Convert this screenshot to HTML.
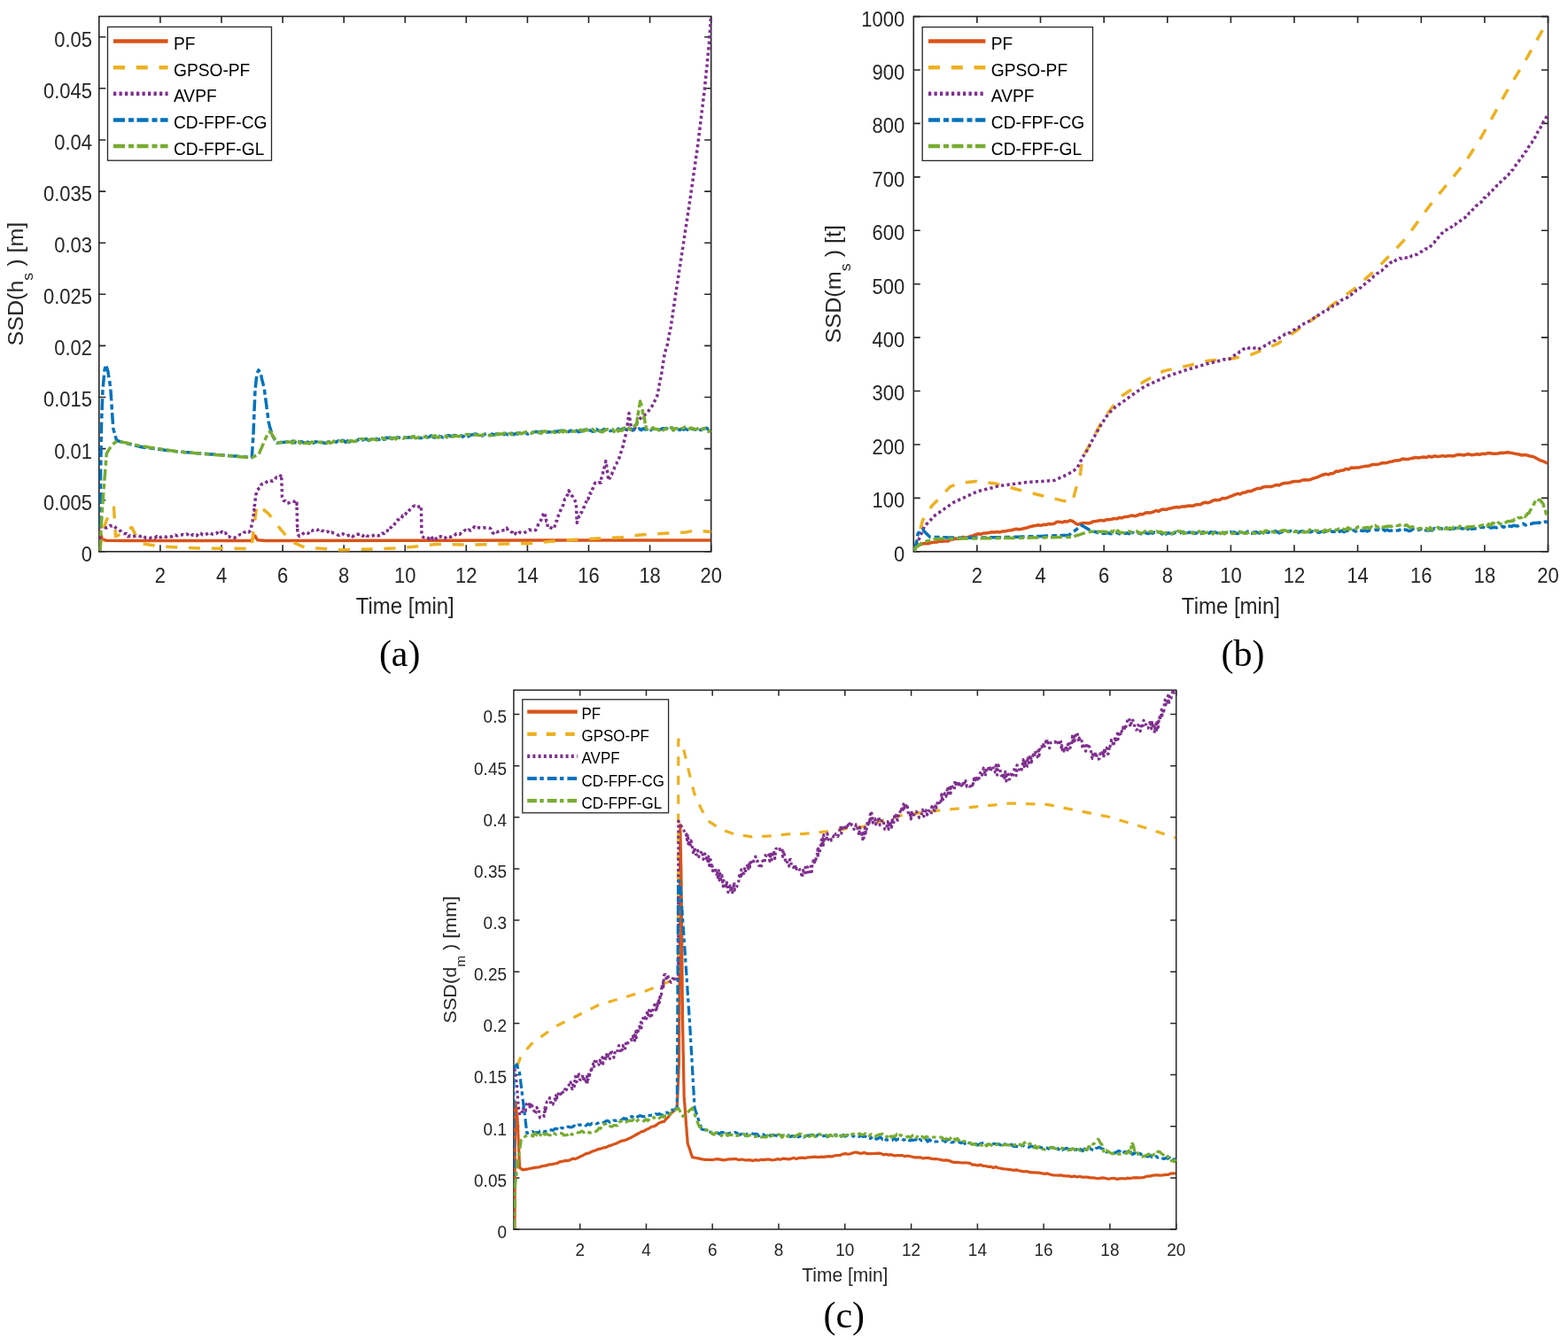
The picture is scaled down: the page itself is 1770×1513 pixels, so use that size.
<!DOCTYPE html>
<html><head><meta charset="utf-8"><title>SSD comparison plots</title>
<style>html,body{margin:0;padding:0;background:#fff;}svg{display:block;}</style>
</head><body>
<svg width="1770" height="1513" viewBox="0 0 1770 1513">
<rect width="1770" height="1513" fill="#fff"/>
<g stroke="#262626" stroke-width="1.6" fill="none">
<rect x="111.8" y="18.5" width="690.9" height="604.3"/>
<path d="M111.8 622.8h7.5M802.7 622.8h-7.5M111.8 564.7h7.5M802.7 564.7h-7.5M111.8 506.6h7.5M802.7 506.6h-7.5M111.8 448.5h7.5M802.7 448.5h-7.5M111.8 390.4h7.5M802.7 390.4h-7.5M111.8 332.3h7.5M802.7 332.3h-7.5M111.8 274.2h7.5M802.7 274.2h-7.5M111.8 216.1h7.5M802.7 216.1h-7.5M111.8 158h7.5M802.7 158h-7.5M111.8 99.8h7.5M802.7 99.8h-7.5M111.8 41.7h7.5M802.7 41.7h-7.5M180.9 622.8v-7.5M180.9 18.5v7.5M250 622.8v-7.5M250 18.5v7.5M319.1 622.8v-7.5M319.1 18.5v7.5M388.2 622.8v-7.5M388.2 18.5v7.5M457.3 622.8v-7.5M457.3 18.5v7.5M526.3 622.8v-7.5M526.3 18.5v7.5M595.4 622.8v-7.5M595.4 18.5v7.5M664.5 622.8v-7.5M664.5 18.5v7.5M733.6 622.8v-7.5M733.6 18.5v7.5M802.7 622.8v-7.5M802.7 18.5v7.5"/>
</g>
<g font-family="'Liberation Sans', Arial, Helvetica, sans-serif" font-size="22" fill="#262626">
<text transform="translate(104 633.7) scale(1 1.06)" text-anchor="end">0</text>
<text transform="translate(104 575.6) scale(1 1.06)" text-anchor="end">0.005</text>
<text transform="translate(104 517.5) scale(1 1.06)" text-anchor="end">0.01</text>
<text transform="translate(104 459.4) scale(1 1.06)" text-anchor="end">0.015</text>
<text transform="translate(104 401.3) scale(1 1.06)" text-anchor="end">0.02</text>
<text transform="translate(104 343.1) scale(1 1.06)" text-anchor="end">0.025</text>
<text transform="translate(104 285) scale(1 1.06)" text-anchor="end">0.03</text>
<text transform="translate(104 226.9) scale(1 1.06)" text-anchor="end">0.035</text>
<text transform="translate(104 168.8) scale(1 1.06)" text-anchor="end">0.04</text>
<text transform="translate(104 110.7) scale(1 1.06)" text-anchor="end">0.045</text>
<text transform="translate(104 52.6) scale(1 1.06)" text-anchor="end">0.05</text>
<text transform="translate(180.9 658) scale(1 1.06)" text-anchor="middle">2</text>
<text transform="translate(250 658) scale(1 1.06)" text-anchor="middle">4</text>
<text transform="translate(319.1 658) scale(1 1.06)" text-anchor="middle">6</text>
<text transform="translate(388.2 658) scale(1 1.06)" text-anchor="middle">8</text>
<text transform="translate(457.3 658) scale(1 1.06)" text-anchor="middle">10</text>
<text transform="translate(526.3 658) scale(1 1.06)" text-anchor="middle">12</text>
<text transform="translate(595.4 658) scale(1 1.06)" text-anchor="middle">14</text>
<text transform="translate(664.5 658) scale(1 1.06)" text-anchor="middle">16</text>
<text transform="translate(733.6 658) scale(1 1.06)" text-anchor="middle">18</text>
<text transform="translate(802.7 658) scale(1 1.06)" text-anchor="middle">20</text>
</g>
<text font-family="'Liberation Sans', Arial, Helvetica, sans-serif" font-size="24" fill="#262626" transform="translate(457.2 693) scale(1 1.06)" text-anchor="middle">Time [min]</text>
<text font-family="'Liberation Sans', Arial, Helvetica, sans-serif" font-size="24" fill="#262626" text-anchor="middle" transform="translate(26.4 320.6) rotate(-90) scale(1.045 1)">SSD(h<tspan dy="10.5" font-size="17">s</tspan><tspan dy="-10.5"> ) [m]</tspan></text>
<g stroke="#262626" stroke-width="1.6" fill="none">
<rect x="1031.3" y="18.6" width="716.2" height="604.2"/>
<path d="M1031.3 622.8h7.5M1747.5 622.8h-7.5M1031.3 562.4h7.5M1747.5 562.4h-7.5M1031.3 502h7.5M1747.5 502h-7.5M1031.3 441.5h7.5M1747.5 441.5h-7.5M1031.3 381.1h7.5M1747.5 381.1h-7.5M1031.3 320.7h7.5M1747.5 320.7h-7.5M1031.3 260.3h7.5M1747.5 260.3h-7.5M1031.3 199.9h7.5M1747.5 199.9h-7.5M1031.3 139.4h7.5M1747.5 139.4h-7.5M1031.3 79h7.5M1747.5 79h-7.5M1031.3 18.6h7.5M1747.5 18.6h-7.5M1102.9 622.8v-7.5M1102.9 18.6v7.5M1174.5 622.8v-7.5M1174.5 18.6v7.5M1246.2 622.8v-7.5M1246.2 18.6v7.5M1317.8 622.8v-7.5M1317.8 18.6v7.5M1389.4 622.8v-7.5M1389.4 18.6v7.5M1461 622.8v-7.5M1461 18.6v7.5M1532.6 622.8v-7.5M1532.6 18.6v7.5M1604.3 622.8v-7.5M1604.3 18.6v7.5M1675.9 622.8v-7.5M1675.9 18.6v7.5M1747.5 622.8v-7.5M1747.5 18.6v7.5"/>
</g>
<g font-family="'Liberation Sans', Arial, Helvetica, sans-serif" font-size="22" fill="#262626">
<text transform="translate(1021.2 633.7) scale(1 1.06)" text-anchor="end">0</text>
<text transform="translate(1021.2 573.3) scale(1 1.06)" text-anchor="end">100</text>
<text transform="translate(1021.2 512.8) scale(1 1.06)" text-anchor="end">200</text>
<text transform="translate(1021.2 452.4) scale(1 1.06)" text-anchor="end">300</text>
<text transform="translate(1021.2 392) scale(1 1.06)" text-anchor="end">400</text>
<text transform="translate(1021.2 331.6) scale(1 1.06)" text-anchor="end">500</text>
<text transform="translate(1021.2 271.2) scale(1 1.06)" text-anchor="end">600</text>
<text transform="translate(1021.2 210.7) scale(1 1.06)" text-anchor="end">700</text>
<text transform="translate(1021.2 150.3) scale(1 1.06)" text-anchor="end">800</text>
<text transform="translate(1021.2 89.9) scale(1 1.06)" text-anchor="end">900</text>
<text transform="translate(1021.2 29.5) scale(1 1.06)" text-anchor="end">1000</text>
<text transform="translate(1102.9 658) scale(1 1.06)" text-anchor="middle">2</text>
<text transform="translate(1174.5 658) scale(1 1.06)" text-anchor="middle">4</text>
<text transform="translate(1246.2 658) scale(1 1.06)" text-anchor="middle">6</text>
<text transform="translate(1317.8 658) scale(1 1.06)" text-anchor="middle">8</text>
<text transform="translate(1389.4 658) scale(1 1.06)" text-anchor="middle">10</text>
<text transform="translate(1461 658) scale(1 1.06)" text-anchor="middle">12</text>
<text transform="translate(1532.6 658) scale(1 1.06)" text-anchor="middle">14</text>
<text transform="translate(1604.3 658) scale(1 1.06)" text-anchor="middle">16</text>
<text transform="translate(1675.9 658) scale(1 1.06)" text-anchor="middle">18</text>
<text transform="translate(1747.5 658) scale(1 1.06)" text-anchor="middle">20</text>
</g>
<text font-family="'Liberation Sans', Arial, Helvetica, sans-serif" font-size="24" fill="#262626" transform="translate(1389.4 693) scale(1 1.06)" text-anchor="middle">Time [min]</text>
<text font-family="'Liberation Sans', Arial, Helvetica, sans-serif" font-size="24" fill="#262626" text-anchor="middle" transform="translate(949 320.7) rotate(-90) scale(1.05 1)">SSD(m<tspan dy="10.5" font-size="17">s</tspan><tspan dy="-10.5"> ) [t]</tspan></text>
<g stroke="#262626" stroke-width="1.5" fill="none">
<rect x="579.9" y="779.2" width="747.8" height="608.8"/>
<path d="M579.9 1388h6.5M1327.7 1388h-6.5M579.9 1329.9h6.5M1327.7 1329.9h-6.5M579.9 1271.7h6.5M1327.7 1271.7h-6.5M579.9 1213.6h6.5M1327.7 1213.6h-6.5M579.9 1155.4h6.5M1327.7 1155.4h-6.5M579.9 1097.3h6.5M1327.7 1097.3h-6.5M579.9 1039.1h6.5M1327.7 1039.1h-6.5M579.9 981h6.5M1327.7 981h-6.5M579.9 922.8h6.5M1327.7 922.8h-6.5M579.9 864.7h6.5M1327.7 864.7h-6.5M579.9 806.5h6.5M1327.7 806.5h-6.5M654.7 1388v-6.5M654.7 779.2v6.5M729.5 1388v-6.5M729.5 779.2v6.5M804.2 1388v-6.5M804.2 779.2v6.5M879 1388v-6.5M879 779.2v6.5M953.8 1388v-6.5M953.8 779.2v6.5M1028.6 1388v-6.5M1028.6 779.2v6.5M1103.4 1388v-6.5M1103.4 779.2v6.5M1178.1 1388v-6.5M1178.1 779.2v6.5M1252.9 1388v-6.5M1252.9 779.2v6.5M1327.7 1388v-6.5M1327.7 779.2v6.5"/>
</g>
<g font-family="'Liberation Sans', Arial, Helvetica, sans-serif" font-size="19" fill="#262626">
<text transform="translate(572 1397.8) scale(1 1.06)" text-anchor="end">0</text>
<text transform="translate(572 1339.7) scale(1 1.06)" text-anchor="end">0.05</text>
<text transform="translate(572 1281.5) scale(1 1.06)" text-anchor="end">0.1</text>
<text transform="translate(572 1223.4) scale(1 1.06)" text-anchor="end">0.15</text>
<text transform="translate(572 1165.2) scale(1 1.06)" text-anchor="end">0.2</text>
<text transform="translate(572 1107.1) scale(1 1.06)" text-anchor="end">0.25</text>
<text transform="translate(572 1048.9) scale(1 1.06)" text-anchor="end">0.3</text>
<text transform="translate(572 990.8) scale(1 1.06)" text-anchor="end">0.35</text>
<text transform="translate(572 932.6) scale(1 1.06)" text-anchor="end">0.4</text>
<text transform="translate(572 874.5) scale(1 1.06)" text-anchor="end">0.45</text>
<text transform="translate(572 816.3) scale(1 1.06)" text-anchor="end">0.5</text>
<text transform="translate(654.7 1418.2) scale(1 1.06)" text-anchor="middle">2</text>
<text transform="translate(729.5 1418.2) scale(1 1.06)" text-anchor="middle">4</text>
<text transform="translate(804.2 1418.2) scale(1 1.06)" text-anchor="middle">6</text>
<text transform="translate(879 1418.2) scale(1 1.06)" text-anchor="middle">8</text>
<text transform="translate(953.8 1418.2) scale(1 1.06)" text-anchor="middle">10</text>
<text transform="translate(1028.6 1418.2) scale(1 1.06)" text-anchor="middle">12</text>
<text transform="translate(1103.4 1418.2) scale(1 1.06)" text-anchor="middle">14</text>
<text transform="translate(1178.1 1418.2) scale(1 1.06)" text-anchor="middle">16</text>
<text transform="translate(1252.9 1418.2) scale(1 1.06)" text-anchor="middle">18</text>
<text transform="translate(1327.7 1418.2) scale(1 1.06)" text-anchor="middle">20</text>
</g>
<text font-family="'Liberation Sans', Arial, Helvetica, sans-serif" font-size="21" fill="#262626" transform="translate(953.8 1446.5) scale(1 1.06)" text-anchor="middle">Time [min]</text>
<text font-family="'Liberation Sans', Arial, Helvetica, sans-serif" font-size="21" fill="#262626" text-anchor="middle" transform="translate(515 1083.6) rotate(-90) scale(1.03 1)">SSD(d<tspan dy="9.5" font-size="15">m</tspan><tspan dy="-9.5"> ) [mm]</tspan></text>
<clipPath id="clipa"><rect x="111.8" y="16.5" width="691.9" height="607.3"/></clipPath>
<g clip-path="url(#clipa)">
<polyline fill="none" stroke="#D95319" stroke-width="3.5" stroke-linejoin="round" points="112.5,622 112.5,599.6 115.3,608.5 120,610.3 140.7,610.5 284,610.5 286,606.5 288,605 290.5,609.8 300,610.5 460,610.3 600,610 802,610"/>
<polyline fill="none" stroke="#EDB120" stroke-width="3.5" stroke-dasharray="13 12.8" stroke-linejoin="round" points="112.5,622 116,600 120,588 125,578 128.5,573 130.5,605.7 136,603 142,598 148.8,595.6 154,606 161,613.9 181.3,617 222,619 284,619.5 286,599.6 290,570.2 296,574 303.4,580.3 313.5,593.5 323.7,605.7 329.8,611.9 344,618 384.7,621 420,620 445.7,619 465,617.6 492.3,614.5 534,615.1 575.9,613.9 603,613.4 619.8,611.4 649,609.3 670,608.2 701.3,606.8 722.2,604 753.5,602 774.5,600.9 785,598.8 802.5,600.5"/>
<polyline fill="none" stroke="#7E2F8E" stroke-width="3.5" stroke-dasharray="3.3 3.2" stroke-linejoin="round" points="112.5,622 112.5,619.1 112.5,618.3 112.5,616.1 112.5,614.5 112.5,610.2 112.5,608.1 112.5,605.7 112.5,603.8 112.5,603.2 112.5,599.2 112.5,598.3 112.5,595.1 115,595 117.5,595.1 120,596.1 122.1,595.3 124.2,593.3 126.3,594 128.4,593.5 130.5,595.8 132,596.7 133.5,597.8 135,599 136.9,600 138.8,601.9 140.7,602.6 142.7,602.4 144.7,605.8 146.9,604.8 149.1,605.9 151.3,605.5 153.4,605.2 155.6,605.2 157.8,605.6 160,605.4 162.1,604.9 164.3,607.2 166.4,607.2 168.5,607.9 170.7,607 172.8,606.7 174.9,607.4 177,605.5 179.2,607.3 181.3,606.6 183.4,605.6 185.5,605.4 187.5,606.3 189.6,605.2 191.7,605.7 193.8,605.9 195.8,605.1 197.9,604 200,605 202.2,604 204.4,603.9 206.6,603.6 208.8,604.1 211,603 213.2,604.7 215.4,605.5 217.6,603.6 219.8,604.5 222,605.1 224.2,602 226.5,602.1 228.8,604 231,603.9 233.2,603.1 235.5,601.3 237.8,601.9 240,603.2 242.1,603 244.2,602.5 246.3,600.3 248.4,602.1 250.5,600.3 252.5,602.6 254.6,601.9 256.6,605.8 258.6,605.8 260.7,607.3 262.7,606.9 264.8,607.2 266.8,606.1 268.9,605.2 270.9,603.5 272.9,603.7 275,601.5 277,600.7 279,599.7 281,600.8 283,598.4 283.4,596.4 283.9,593.6 284.3,593.1 284.7,590.5 285.1,588.2 285.6,584.2 286,583.2 286.3,580.7 286.5,577.7 286.8,575.2 287,576.2 287.3,571.2 287.6,569.6 287.8,567.3 288.1,566.1 288.3,562.2 288.6,561.3 288.8,558.8 289.1,558.1 290.3,553.4 291.5,552.4 292.8,550.9 294,550.3 295.2,546.9 297.2,545.9 299.3,545.8 301.3,543.8 303.4,542.2 305.6,542.8 307.8,543.2 310,541.8 311.9,539.1 313.8,539.4 315.7,538.8 317.6,535.8 317.7,539.1 317.8,540.5 317.9,542.4 317.9,544.7 318,546.7 318.1,549.3 318.2,550.5 318.3,553.9 318.4,555.1 318.4,559.4 318.5,561.1 318.6,561.4 320.3,565.6 322,565.4 323.7,568 325.9,567.9 328.2,566.8 330.4,566.2 332.7,566.3 334.9,564.9 335,569.5 335,569.3 335.1,573.8 335.1,574 335.2,576.5 335.3,579 335.3,580.1 335.4,582.6 335.4,585.6 335.5,588 335.5,591.6 335.6,594.2 335.7,593.4 335.7,597.2 335.8,598.1 335.8,602.5 335.9,603.1 337.9,605.5 340,604.8 342,602.6 344,601.2 346,601.1 348,602.1 350,598.9 352.1,599.3 354.1,598.4 356.2,597.7 358.3,598.6 360.6,597.2 363,599.3 365.3,599.6 367.7,600.9 370,600.1 372.1,601.9 374.2,600.9 376.3,601.8 378.4,602.5 380.5,603.7 382.6,604.4 384.7,602.5 387,602.7 389.2,604 391.5,605 393.7,604.3 396,603.6 398.2,605.8 400.5,603.8 402.7,603.3 405,603.3 407.2,603.1 409.5,605.2 411.7,603.2 413.9,605 416.1,605.4 418.4,605.8 420.6,605.1 422.8,603.7 425,604.3 427.3,604.9 429.5,604.4 431.5,602 433.6,602.5 435.6,599.4 437.6,599 439.2,599.7 440.7,596.5 442.2,594.3 443.8,594.4 445.4,591.8 446.9,588.9 448.4,587.4 450,586.6 451.5,585.3 453.1,585.7 454.6,582 456.1,582.4 457.6,580.9 459.1,578 460.7,578.3 462.2,576 464.2,573.8 466.3,571.8 468.3,571.1 470.7,572.8 473,572 475.4,571.2 475.4,574 475.5,576.6 475.5,577.9 475.6,581.4 475.6,581.9 475.6,586.6 475.7,586.8 475.7,588.8 475.8,592.6 475.8,593.9 475.8,598 475.9,599 475.9,601.3 476,604.5 476,604.8 478.1,606.8 480.2,606.8 482.3,606.4 484.4,608.4 486.5,605.7 488.6,608.7 490.7,606.7 493,608.7 495.2,606.2 497.5,605.7 499.7,606.9 502,608 504.2,605.6 506.5,606.1 508.7,606.3 511,604.9 513,605 515,602.5 517,603.1 519,603.3 521,601.1 523,599.9 525,598.6 527.1,599.9 529.1,598.2 531.2,599 533.3,597.7 535.4,594.9 537.4,596.7 539.5,596 541.5,595.8 543.6,596 545.6,595.7 547.6,596 549.7,596 551.7,595.9 553,596.3 554.2,597.5 555.5,600.9 556.8,602 559,599.6 561.1,600.7 563.3,599.9 565.5,598.8 567.7,598.9 569.8,598.5 572,596.2 573.6,598.8 575.3,599 576.9,600.5 578.6,601.2 580.2,604.1 582.3,602.1 584.4,603.4 586.5,601 588.7,601.7 590.8,602.1 592.9,601 595,599.6 597.4,598 599.8,598.7 602.2,597.9 604.6,598.6 605.6,596.7 606.6,595.5 607.6,591.9 608.6,590 609.7,588.7 610.7,587.4 611.7,583.4 612.7,582 613.7,580 614.7,578.7 615.2,580.7 615.7,584.9 616.2,584.5 616.8,588.8 617.3,588.8 617.8,590.6 618.3,595.1 618.8,594.3 620.8,595.4 622.9,596.4 624.9,597.2 625.6,596.1 626.4,593.4 627.1,591.1 627.8,588.5 628.6,588.5 629.3,584.3 630.1,582.7 630.8,581.6 631.5,580.5 632.3,577.7 633,575.7 633.9,573.6 634.8,571.9 635.8,570.1 636.7,565.9 637.6,563.5 638.5,563.3 639.4,561 640.4,559 641.3,557.8 642.2,553.9 643.4,557.3 644.5,558.2 645.7,559.9 646.8,561.1 648,562.9 649.1,565.6 650.3,567.3 650.4,570.6 650.5,570.9 650.6,574.5 650.7,574.8 650.8,578.8 650.9,579.5 651,583.9 651.1,586.5 651.2,586.5 651.3,590.5 652.1,586.8 652.9,585.2 653.8,582.7 654.6,582 655.4,579 656.4,578.9 657.3,576.5 658.3,574 659.2,572.9 660.2,569.3 661.2,567.6 662.1,565.7 663.1,562.5 664,563.3 665,558.7 666,556.8 666.9,557.2 667.9,555.4 668.8,552.3 669.8,550.3 670.7,547.5 671.7,545.2 673.7,546.5 675.8,545.3 677.8,544.7 678.3,545 678.8,540 679.3,539 679.8,538.1 680.3,536 680.8,531.8 681.4,531.7 681.9,529 682.4,527.1 682.9,526 683.4,523.4 683.9,520.6 684.2,523.4 684.5,524.8 684.8,527.2 685.1,530.3 685.5,531.9 685.8,533.3 686.1,534.4 686.4,539.1 686.7,539.9 687,542.5 687.9,540.1 688.7,539 689.6,536.5 690.5,535.9 691.3,533.2 692.2,531.2 693.1,529.9 693.9,526.9 694.8,525.2 695.8,523.8 696.7,521.6 697.7,519.5 698.6,517.9 699.6,514.7 700.3,512.6 701,510.6 701.7,508.7 702.4,506.8 703,504.5 703.6,502.2 704.1,499.9 704.7,497.6 705.3,495.3 705.8,493.4 706.2,491.5 706.7,489.5 707.2,487.6 707.5,485.5 707.8,483.4 708,481.3 708.3,479.2 708.6,477.1 708.9,474.9 709.2,472.8 709.4,470.7 709.7,468.6 710,466.5 710.3,468.8 710.7,471 711,473.2 711.3,475.5 711.7,477.8 712,480 712.8,481.9 713.5,483.8 714.2,485.7 715,487.6 715.8,485.7 716.6,483.7 717.4,481.8 718.1,479.8 718.9,477.9 719.7,475.9 720.5,474 722.1,472.8 723.8,471.5 725.4,470.2 727,469 728.7,467.8 730.3,466.5 731.7,464.6 733.1,462.6 734.6,460.7 736,458.8 737,456.9 737.9,455 738.9,453.1 739.9,451.1 740.8,449.2 741.8,447.3 742.2,445.1 742.6,442.9 743.1,440.6 743.5,438.4 743.9,436.2 744.3,434 744.8,431.8 745.2,429.6 745.6,427.4 746,425.1 746.5,422.9 746.9,420.7 747.2,418.5 747.6,416.4 747.9,414.2 748.3,412 748.6,409.9 748.9,407.7 749.3,405.5 749.6,403.3 750,401.2 750.3,399 751,396.8 751.6,394.6 752.3,392.4 753,390.2 753.5,387.9 753.9,385.7 754.4,383.4 754.8,381.1 755.3,378.9 755.7,376.6 756.2,374.3 756.6,372.1 757.1,369.8 757.4,367.6 757.8,365.4 758.1,363.2 758.4,361 758.8,358.8 759.1,356.6 759.4,354.4 759.7,352.2 760.1,350 760.4,347.8 760.7,345.6 761.1,343.4 761.4,341.2 761.7,339 762,336.8 762.4,334.6 762.7,332.4 763,330.2 763.4,328 763.7,325.8 764,323.6 764.4,321.4 764.7,319.2 765,317 765.4,314.8 765.7,312.6 766,310.4 766.3,308.2 766.7,306 767,303.8 767.3,301.6 767.7,299.5 768,297.3 768.3,295.2 768.7,293 769,290.8 769.3,288.7 769.7,286.5 770,284.3 770.3,282.2 770.7,280 771,277.9 771.3,275.7 771.7,273.5 772,271.4 772.3,269.2 772.6,267.1 773,264.9 773.3,262.7 773.6,260.6 774,258.4 774.3,256.3 774.6,254.1 775,251.9 775.3,249.8 775.6,247.6 776,245.4 776.3,243.3 776.6,241.1 777,239 777.3,236.8 777.6,234.6 777.9,232.4 778.2,230.2 778.5,228 778.9,225.9 779.2,223.7 779.5,221.5 779.8,219.3 780.1,217.1 780.4,214.9 780.7,212.7 781,210.5 781.4,208.4 781.7,206.2 782,204 782.3,201.8 782.6,199.6 782.9,197.4 783.2,195.2 783.5,193 783.9,190.9 784.2,188.7 784.5,186.5 784.8,184.3 785.1,182.1 785.4,179.9 785.7,177.7 786,175.5 786.4,173.4 786.7,171.2 787,169 787.3,166.8 787.6,164.6 787.9,162.4 788.1,160.2 788.4,157.9 788.7,155.7 788.9,153.5 789.2,151.3 789.5,149.1 789.8,146.8 790,144.6 790.3,142.4 790.6,140.2 790.8,138 791.1,135.7 791.4,133.5 791.6,131.3 791.9,129.1 792.2,126.8 792.4,124.6 792.7,122.4 793,120.2 793.2,118 793.5,115.7 793.8,113.5 794.1,111.3 794.3,109.1 794.6,106.9 794.9,104.6 795.1,102.4 795.4,100.2 795.6,98.1 795.8,95.9 796,93.8 796.2,91.6 796.5,89.5 796.7,87.3 796.9,85.2 797.1,83 797.3,80.9 797.5,78.7 797.7,76.6 798,74.5 798.2,72.3 798.4,70.2 798.6,68 798.8,65.9 799,63.7 799.2,61.6 799.4,59.4 799.6,57.3 799.9,55.1 800.1,53 800.3,50.8 800.5,48.7 800.6,46.6 800.8,44.5 800.9,42.3 801.1,40.2 801.2,38.1 801.4,36 801.5,33.9 801.6,31.7 801.8,29.6 801.9,27.5 802.1,25.4 802.2,23.2 802.4,21.1 802.5,19"/>
<polyline fill="none" stroke="#0072BD" stroke-width="3.5" stroke-dasharray="13 4 6 3.5" stroke-linejoin="round" points="112.5,622 112.5,619.8 112.5,617.7 112.6,615.5 112.6,613.3 112.6,611.2 112.7,609 112.7,606.8 112.7,604.7 112.7,602.5 112.8,600.3 112.8,598.2 112.8,596 112.8,593.8 112.9,591.5 112.9,589.3 112.9,587 112.9,584.8 113,582.6 113,580.3 113,578.1 113.1,575.8 113.1,573.6 113.1,571.4 113.1,569.1 113.2,566.9 113.2,564.6 113.2,562.4 113.2,560.2 113.3,557.9 113.3,555.7 113.3,553.4 113.4,551.2 113.4,549 113.4,546.7 113.4,544.5 113.5,542.2 113.5,540 113.5,537.8 113.6,535.6 113.6,533.3 113.6,531.1 113.7,528.9 113.7,526.7 113.8,524.4 113.8,522.2 113.8,520 113.9,517.8 113.9,515.6 113.9,513.3 114,511.1 114,508.9 114.1,506.7 114.1,504.4 114.1,502.2 114.2,500 114.2,497.8 114.2,495.6 114.3,493.3 114.3,491.1 114.4,488.9 114.4,486.7 114.4,484.4 114.5,482.2 114.5,480 114.6,477.8 114.7,475.6 114.8,473.3 114.8,471.1 114.9,468.9 115,466.7 115.1,464.4 115.2,462.2 115.2,460 115.3,457.8 115.4,455.6 115.5,453.3 115.6,451.1 115.7,448.9 115.8,446.7 115.8,444.4 115.9,442.2 116,440 116.2,437.8 116.4,435.6 116.6,433.4 116.8,431.2 117,429 117.2,426.8 117.4,424.6 117.6,422.4 117.8,420.2 118,418 118.5,416 119.1,414 119.6,412 120.2,414 120.8,416 121.4,418 122,420 122.3,422.2 122.7,424.5 123,426.8 123.4,429 123.8,431.2 124.1,433.5 124.5,435.8 124.8,438 124.9,440.2 125.1,442.5 125.2,444.8 125.4,447 125.5,449.2 125.7,451.5 125.8,453.8 125.9,456 126.1,458.2 126.2,460.5 126.4,462.8 126.5,465 126.7,467.3 126.8,469.6 127,472 127.2,474.3 127.3,476.6 127.5,479 127.6,481.3 127.8,483.6 128.4,485.9 129.1,488.2 129.7,490.5 130.3,492.7 131,495 131.6,497.3 133.9,498 136.1,498.6 138.4,499.3 140.7,500 142.7,500.5 144.8,501 146.8,501.5 148.8,502 150.8,502.5 152.9,503 154.9,503.5 156.9,504 159,504.5 161,505 163.1,505.3 165.3,505.5 167.4,505.8 169.6,506.1 171.7,506.3 173.9,506.6 176,506.8 178.1,507.1 180.3,507.4 182.4,507.6 184.6,507.9 186.7,508.2 188.8,508.4 191,508.7 193.1,508.9 195.3,509.2 197.4,509.5 199.6,509.7 201.7,510 203.8,510.2 206,510.3 208.1,510.5 210.3,510.7 212.4,510.8 214.6,511 216.7,511.2 218.8,511.3 221,511.5 223.1,511.7 225.3,511.9 227.4,512 229.5,512.2 231.7,512.4 233.8,512.5 236,512.7 238.1,512.9 240.3,513 242.4,513.2 244.6,513.4 246.8,513.5 249,513.7 251.2,513.9 253.4,514.1 255.6,514.2 257.8,514.4 260,514.6 262.2,514.8 264.5,514.9 266.7,515.1 268.9,515.3 271.1,515.5 273.3,515.6 275.5,515.8 277.7,516 279.9,516.2 282.1,516.3 284.3,516.5 284.4,514.3 284.6,512.1 284.7,509.9 284.9,507.7 285,505.5 285.1,503.2 285.3,501 285.4,498.8 285.6,496.6 285.7,494.4 285.9,492.2 286,490 286.1,487.8 286.2,485.7 286.3,483.5 286.3,481.3 286.4,479.1 286.5,477 286.6,474.8 286.7,472.6 286.8,470.4 286.9,468.3 287,466.1 287,463.9 287.1,461.7 287.2,459.6 287.3,457.4 287.4,455.2 287.5,453 287.6,450.9 287.7,448.7 287.7,446.5 287.8,444.3 287.9,442.2 288,440 288.2,437.8 288.5,435.5 288.8,433.2 289,431 289.2,428.8 289.5,426.5 289.8,424.2 290,422 290.9,419.9 291.8,417.9 292.9,419.4 294,421 294.5,423.2 295.1,425.5 295.6,427.8 296.1,430 296.7,432.2 297.2,434.5 297.8,436.8 298.3,439 298.6,441.1 298.9,443.3 299.1,445.4 299.4,447.6 299.7,449.7 300,451.9 300.3,454 300.6,456.2 300.9,458.3 301.1,460.4 301.4,462.6 301.7,464.7 302,466.9 302.3,469 302.5,471.2 302.8,473.3 303.1,475.5 303.4,477.6 304,479.6 304.5,481.7 305.1,483.7 305.7,485.8 306.3,487.8 306.8,489.9 307.4,491.9 308.7,493.9 309.9,495.9 311.2,498 312.5,500 314.7,499.8 317,499.6 319.2,499.4 321.5,499.2 323.7,499 325.8,499.1 328,499.1 330.1,498.1 332.3,499.7 334.4,499.7 336.6,500.5 338.7,498.8 340.8,498.8 343,500.1 345.1,499.9 347.3,499.1 349.4,500.1 351.5,499.4 353.7,500.5 355.8,498.8 358,499.1 360.1,500.9 362.3,499.6 364.4,499.4 366.5,500.6 368.7,500 370.8,498.6 372.9,499.5 375.1,499.6 377.2,498.2 379.4,499.3 381.5,497.8 383.6,498.2 385.8,497.3 387.9,497.5 390,499.3 392.2,497.7 394.3,499.1 396.5,497.5 398.6,497.8 400.7,498.3 402.9,497.6 405,496 407.2,497.1 409.4,497.1 411.6,495.8 413.8,495.5 416,497.4 418.2,496.3 420.4,495.4 422.6,495.9 424.8,495.2 427,496.6 429.2,495.7 431.4,494.5 433.6,496.3 435.8,494.3 438,494.6 440.2,493.9 442.4,495.6 444.6,493.8 446.8,494.8 449,493.5 451.2,494.4 453.4,494.8 455.6,494.3 457.8,494 460,494 462.2,493.8 464.4,494.1 466.7,492.7 468.9,493.6 471.1,492.9 473.3,494.5 475.6,494.6 477.8,492.3 480,492.4 482.2,493.8 484.4,493.4 486.7,491.9 488.9,493.6 491.1,494.1 493.3,492.7 495.6,492.4 497.8,492.9 500,493.8 502.2,492 504.4,492 506.7,491.6 508.9,492.7 511.1,492.2 513.3,491.6 515.6,491.9 517.8,490.9 520,491.5 522.2,493.2 524.4,492 526.7,491.2 528.9,492.8 531.1,491.2 533.3,490.8 535.6,490.1 537.8,490.3 540,490.4 542.2,490.4 544.4,492 546.7,490.3 548.9,490.1 551.1,491 553.3,491.7 555.6,490 557.8,491.1 560,490 562.2,490.4 564.4,490.4 566.7,491.2 568.9,490.6 571.1,489.9 573.3,490.7 575.6,489.3 577.8,489.3 580,490.7 582.2,489.5 584.4,490 586.7,488.7 588.9,490.2 591.1,489.3 593.3,488.3 595.6,490 597.8,488.7 600,488.2 602.2,488 604.4,487.4 606.7,487.6 608.9,488.8 611.1,487.3 613.3,487.5 615.6,487.9 617.8,488 620,487.5 622.2,488.5 624.4,487 626.7,487.2 628.9,487.3 631.1,486.4 633.3,486.6 635.6,486.3 637.8,487.7 640,486.1 642.2,487.4 644.4,486.1 646.7,487.2 648.9,487.1 651.1,486.2 653.3,487.7 655.6,486.9 657.8,486.6 660,485.2 662.2,486 664.4,485.6 666.7,486 668.9,487.2 671.1,486.9 673.3,484.7 675.6,486.3 677.8,486.9 680,485.8 682.2,484.5 684.4,486.5 686.7,485.3 688.9,486.6 691.1,486.3 693.3,486.1 695.6,486.3 697.8,484 700,485.8 702.2,484.4 704.3,484 706.5,484.6 708.7,485.1 710.9,483.5 713,484.6 715.2,485.4 717.4,484.6 719.6,484.7 721.7,484 723.9,485.7 726.1,483.8 728.3,484.9 730.4,484.8 732.6,483 734.8,485.6 737,483.6 739.1,485.5 741.3,485.3 743.5,485.2 745.7,485 747.8,483.8 750,483.9 752.2,483.6 754.3,485.2 756.5,482.8 758.7,483.1 760.8,485.3 763,484.9 765.2,484.7 767.3,485.4 769.5,484.2 771.7,485.1 773.8,484.1 776,485.3 778.2,483.2 780.3,484.1 782.5,484.5 784.7,485.1 786.8,484.2 789,484.8 791.2,485.6 793.3,484.2 795.5,483.7 797.7,483.2 799.8,485.4 802,484.5"/>
<polyline fill="none" stroke="#77AC30" stroke-width="3.5" stroke-dasharray="13 4 6 3.5" stroke-linejoin="round" points="112.5,622 112.6,619.8 112.8,617.6 112.9,615.4 113.1,613.3 113.2,611.1 113.3,608.9 113.5,606.7 113.6,604.5 113.8,602.3 113.9,600.1 114,598 114.2,595.8 114.3,593.6 114.5,591.4 114.6,589.2 114.8,587 114.9,584.9 115,582.7 115.2,580.5 115.3,578.3 115.5,576.1 115.6,573.9 115.7,571.7 115.9,569.6 116,567.4 116.2,565.2 116.3,563 116.5,560.8 116.6,558.6 116.8,556.4 117,554.2 117.2,552 117.3,549.7 117.5,547.5 117.7,545.3 117.9,543.1 118,540.9 118.2,538.7 118.4,536.5 118.6,534.3 118.7,532.1 118.9,529.9 119.1,527.7 119.3,525.5 119.4,523.2 119.6,521 119.8,518.8 120,516.6 120.1,514.4 120.3,512.2 121.5,510.2 122.7,508.1 124,506.1 125.2,504 126.4,502 128.4,500.7 130.5,499.3 132.5,498 134.7,498.5 136.9,498.9 139.1,499.4 141.3,499.8 143.5,500.3 145.7,500.8 147.8,501.2 150,501.7 152.2,502.2 154.4,502.6 156.6,503.1 158.8,503.5 161,504 163.1,504.3 165.3,504.6 167.4,504.9 169.6,505.3 171.7,505.6 173.9,505.9 176,506.2 178.1,506.5 180.3,506.8 182.4,507.2 184.6,507.5 186.7,507.8 188.8,508.1 191,508.4 193.1,508.7 195.3,509.1 197.4,509.4 199.6,509.7 201.7,510 203.8,510.2 206,510.4 208.1,510.6 210.3,510.7 212.4,510.9 214.6,511.1 216.7,511.3 218.8,511.5 221,511.7 223.1,511.8 225.3,512 227.4,512.2 229.5,512.4 231.7,512.6 233.8,512.8 236,512.9 238.1,513.1 240.3,513.3 242.4,513.5 244.6,513.7 246.8,513.8 249,514 251.2,514.2 253.4,514.3 255.6,514.5 257.8,514.7 260,514.8 262.2,515 264.5,515.2 266.7,515.4 268.9,515.5 271.1,515.7 273.3,515.9 275.5,516 277.7,516.2 279.9,516.4 282.1,516.5 284.3,516.7 286.3,515.7 288.2,514.7 290.2,513.7 292.2,512.7 293.1,510.7 293.9,508.7 294.8,506.8 295.6,504.8 296.5,502.8 297.4,500.8 298.2,498.8 299.1,496.8 299.9,494.9 300.8,492.9 301.6,490.9 302.5,488.9 304.9,487.3 305.9,488.9 307,490.4 308,492 309.2,494 310.4,496 311.7,498 312.9,500 315.1,499.8 317.2,499.6 319.4,499.4 321.5,499.2 323.7,499 325.8,499.1 328,499.1 330.1,500.4 332.3,497.9 334.4,499.9 336.6,498.4 338.7,500.6 340.8,498.2 343,500.5 345.1,500 347.3,500.5 349.4,500.9 351.5,499 353.7,499.3 355.8,500.3 358,499.3 360.1,499.3 362.3,499.2 364.4,500.9 366.5,500.8 368.7,500.5 370.8,498.8 372.9,500.5 375.1,499.2 377.2,498.4 379.4,498.8 381.5,498.5 383.6,497.5 385.8,498.6 387.9,497.9 390,498.3 392.2,499.1 394.3,498.2 396.5,497.4 398.6,498.4 400.7,498.6 402.9,497.1 405,498.2 407.2,495.6 409.4,495.8 411.6,495.8 413.8,497.7 416,496.9 418.2,496.8 420.4,495.6 422.6,496 424.8,496.9 427,494.8 429.2,494.7 431.4,494.4 433.6,495.4 435.8,496.2 438,495.3 440.2,494.8 442.4,495 444.6,494 446.8,495.9 449,494.2 451.2,493.8 453.4,493.9 455.6,495.1 457.8,493.6 460,495.1 462.2,493.5 464.4,493.7 466.7,492.7 468.9,494.8 471.1,494.4 473.3,493.5 475.6,492.5 477.8,493.4 480,493 482.2,494.1 484.4,494.3 486.7,493.7 488.9,492.5 491.1,491.8 493.3,493.9 495.6,494 497.8,491.9 500,492.7 502.2,492.5 504.4,493.8 506.7,491.3 508.9,491.2 511.1,493.2 513.3,492.4 515.6,492.1 517.8,492.8 520,492.2 522.2,492.4 524.4,491.2 526.7,490.6 528.9,490.4 531.1,491.1 533.3,491.8 535.6,491 537.8,490.9 540,491.5 542.2,491.6 544.4,491.2 546.7,490.4 548.9,491.6 551.1,491.5 553.3,491.6 555.6,491.5 557.8,489.2 560,490.8 562.2,489.8 564.4,489.9 566.7,490.1 568.9,489 571.1,489.2 573.3,491 575.6,489.2 577.8,490.7 580,490 582.2,488.9 584.4,488.8 586.7,489.5 588.9,489.7 591.1,488.6 593.3,487.8 595.6,488 597.8,489.7 600,489.3 602.2,487.6 604.4,489.4 606.7,488.6 608.9,487.9 611.1,489.2 613.3,487.1 615.6,487 617.8,487.5 620,488.5 622.2,487.9 624.4,487.6 626.7,488.6 628.9,487.2 631.1,488.1 633.3,486 635.6,487.9 637.8,486.2 640,487.7 642.2,488.4 644.4,487.5 646.7,487.1 648.9,486.9 651.1,487.7 653.3,486 655.6,485.3 657.8,486.7 660,486.4 662.2,484.6 664.4,486.3 666.7,486 668.9,484.5 671.1,486.9 673.3,487.1 675.6,485.1 677.8,487.3 680,487.8 682.2,486.3 684.4,485.1 686.7,484.4 688.9,483.7 691.1,484.3 693.3,487.4 695.6,483.2 697.8,486.9 700,485.9 702.4,486.1 704.8,483 707.2,485.3 709.6,483.3 712,485.3 713.7,484.2 715.4,482.2 717.1,479.8 718.8,479.7 719.1,474.5 719.5,471.9 719.8,472.8 720.2,467 720.5,466.3 720.9,464 721.2,463.8 721.6,459.3 721.9,457.9 722.3,455.3 722.6,452.9 723.2,454.8 723.9,456.7 724.5,459.2 724.9,460.6 725.3,462.6 725.7,466.8 726.2,469.1 726.6,468 727,473.1 727.4,471.1 727.9,474.9 728.3,479.8 728.8,478.9 729.3,483.5 731.2,485.7 733.1,484.8 735,484.8 737.3,482.8 739.5,484.6 741.8,484.6 744.1,485.9 746.4,484.1 748.6,485.8 750.9,483.9 753.2,484.9 755.5,485.3 757.7,482.6 760,486 762.2,483.7 764.4,483.7 766.7,485.7 768.9,483.9 771.1,483.5 773.3,482.1 775.6,482 777.8,484.3 780,483 782.2,484 784.4,484.4 786.6,484.6 788.8,483.3 791,485.9 793.2,484.4 795.4,483.5 797.6,486.8 799.8,487.2 802,485.7"/>
</g>
<clipPath id="clipb"><rect x="1031.3" y="16.6" width="717.2" height="607.2"/></clipPath>
<g clip-path="url(#clipb)">
<polyline fill="none" stroke="#D95319" stroke-width="3.5" stroke-linejoin="round" points="1032,622 1032.6,619.8 1033.2,617.5 1036.1,616.3 1039.1,615 1042,613.7 1045.1,613.5 1048.3,613.7 1051.4,612.6 1054.5,612.3 1057.7,612.1 1060.8,611 1063.9,611.2 1067.1,611 1070.2,610.9 1073,609.2 1075.8,609 1078.7,608 1081.5,608.6 1084.3,607.9 1087.2,606.3 1090,607.2 1092.8,606.6 1095.6,605.5 1098.4,604.9 1101.3,603.6 1104.1,602.8 1107.2,603.2 1110.3,602.1 1113.3,601.9 1116.4,601.6 1119.5,600.8 1122.6,601.1 1125.7,600.6 1128.8,600.9 1131.8,599.9 1134.9,599.7 1138,599.1 1141.1,598.8 1144.2,598 1147.2,597.2 1150.3,597.8 1153.4,597.3 1156.5,596.5 1159.6,595.8 1162.7,594.7 1165.7,594 1168.8,593.6 1171.9,592.7 1174.9,593.4 1177.9,592.3 1180.9,592.6 1183.9,591.4 1186.9,591.8 1190,591.2 1193,589.3 1196,589.2 1199,589.9 1202,588.7 1205,589 1208,587.6 1210.9,588.5 1213.9,590.7 1216.8,592.3 1219.7,591.1 1222.6,590.4 1225.4,590.4 1228.3,591 1231.2,590.2 1234.2,588.8 1237.1,588.5 1240,587.9 1243,587.4 1246,588.1 1248.9,586.7 1251.8,586.8 1254.8,586.2 1257.8,585.4 1260.7,585.8 1263.7,584.4 1266.6,584.8 1269.5,583.5 1272.5,583.6 1275.4,582.6 1278.4,582.1 1281.3,582.7 1284.3,581.8 1287.2,580.4 1290.2,580.8 1293.1,579.1 1296,578.8 1299,578.9 1301.9,578 1304.9,576.5 1307.8,577.4 1310.8,575.5 1313.7,575 1316.7,575.4 1319.6,574.2 1322.5,573.7 1325.5,572.9 1328.5,572.5 1331.4,572.9 1334.3,571.9 1337.3,572 1340.2,571.2 1343.2,570.9 1346.2,571.3 1349.1,570.1 1352,569.8 1355,569.8 1357.8,568 1360.6,567.2 1363.3,567.8 1366.1,566.9 1368.9,565.3 1371.7,564.5 1374.4,564.7 1377.2,564.3 1380,562.4 1382.9,562.8 1385.7,561.9 1388.6,560.7 1391.4,559.6 1394.3,558.3 1397.2,557.4 1400,558.1 1402.9,556.2 1405.7,556.1 1408.6,554.6 1411.5,554.8 1414.3,553.6 1417.2,552.3 1420,551.4 1422.9,551.5 1425.9,549.9 1428.9,549.6 1431.9,549.6 1434.8,549.5 1437.8,548.6 1440.8,547.5 1443.8,548 1446.8,546.4 1449.8,545.5 1452.7,545.4 1455.7,545.1 1458.7,544 1461.7,543.6 1464.7,543.4 1467.6,543.2 1470.6,542 1473.6,541.8 1476.6,542.1 1479.5,541.5 1482.3,540.2 1485.2,539.4 1488,538.5 1490.9,537 1493.8,536 1496.6,535.2 1499.5,535.9 1502.3,534.7 1505.2,534.4 1508.1,532.1 1510.9,532.3 1513.8,531.2 1516.6,530.9 1519.5,529.4 1522.4,530 1525.4,528 1528.3,528.3 1531.2,528.1 1534.1,527.9 1537.1,527.1 1540,526.6 1542.9,526.2 1545.8,525.9 1548.8,524.6 1551.7,524.6 1554.6,524.4 1557.4,523.9 1560.3,522.7 1563.2,522.8 1566,522.4 1568.9,521.4 1571.8,521 1574.6,520.1 1577.5,519.9 1580.4,519.5 1583.2,518.1 1586.1,518.5 1589,518.6 1591.8,517.9 1594.7,517.2 1597.8,516.5 1600.8,516.9 1603.9,516.5 1607,516.1 1610,516.6 1613.1,515.2 1616.2,516.1 1619.2,514.8 1622.3,515.5 1625.3,515.2 1628.4,514.6 1631.5,515.2 1634.5,514.8 1637.6,514.8 1640.6,515.1 1643.6,513.9 1646.5,513.3 1649.5,513.6 1652.5,514 1655.5,513.1 1658.5,512.8 1661.5,513.8 1664.4,513.3 1667.4,512.7 1670.4,513.3 1673.4,512.2 1676.4,512.6 1679.4,511.6 1682.3,511.8 1685.3,512.2 1688.3,512.2 1691.3,512 1694.2,511.2 1697,511.5 1699.9,511.1 1702.8,510.8 1705.6,511.4 1708.5,511.9 1711.6,512.6 1714.6,513 1717.7,514 1720.7,513.5 1723.8,513.9 1726.8,515 1729.9,515.3 1732.7,516.5 1735.5,518.1 1738.3,519.7 1741.2,520.7 1744,521.7 1746.8,523.2"/>
<polyline fill="none" stroke="#EDB120" stroke-width="3.5" stroke-dasharray="13 12.8" stroke-linejoin="round" points="1032,622 1033.2,618.7 1041.5,587.8 1051.8,571.3 1060,563 1072.4,549.6 1082.7,545.5 1101.3,543.4 1124,546.1 1148.7,552.7 1177.6,560 1198.7,565.1 1210.4,567.2 1214.7,551.3 1219.1,538.2 1222,516.3 1227.8,506.5 1233.6,495 1240.9,481.5 1248.2,469.5 1255.4,460 1267.1,446.5 1291.8,430.5 1313.6,418.9 1339.8,413.1 1364.5,407.3 1393.6,404.4 1412.5,400.3 1442.3,388.1 1483,359.7 1529.1,325.8 1553.5,304.1 1586,270.2 1615.8,229.6 1653.8,183.5 1672.8,153.7 1699.9,104.9 1724.3,64.2 1746.8,24"/>
<polyline fill="none" stroke="#7E2F8E" stroke-width="3.5" stroke-dasharray="3.3 3.2" stroke-linejoin="round" points="1032,622 1032.6,620.4 1033.2,618.7 1034.1,616.6 1034.9,614.6 1035.8,612.5 1036.7,610.5 1037.5,608.4 1038.4,606.4 1039.3,604.3 1040.1,602.2 1041,600.2 1041.9,598.1 1042.7,596.1 1043.6,594 1045.1,592.5 1046.7,590.9 1048.2,589.4 1049.8,587.8 1051.3,586.2 1052.8,584.7 1054.4,583.1 1055.9,581.6 1057.8,580.3 1059.7,579 1061.5,577.7 1063.4,576.4 1065.3,575.1 1067.2,573.7 1069.1,572.4 1071,571.1 1072.8,569.8 1074.7,568.5 1076.6,567.2 1078.7,566.2 1080.7,565.3 1082.8,564.3 1084.8,563.4 1086.9,562.4 1089,561.5 1091,560.5 1093.1,559.6 1095.2,558.6 1097.2,557.7 1099.3,556.7 1101.3,555.8 1103.4,554.8 1105.5,554.3 1107.5,553.8 1109.6,553.2 1111.6,552.7 1113.7,552.2 1115.8,551.7 1117.8,551.2 1119.9,550.7 1121.9,550.1 1124,549.6 1126,549.1 1128.1,548.6 1130.3,548.3 1132.5,548 1134.7,547.7 1136.9,547.4 1139.1,547.1 1141.3,546.8 1143.5,546.5 1145.8,546.3 1148,546 1150.2,545.7 1152.4,545.4 1154.6,545.1 1156.8,544.8 1159,544.5 1161.2,544.4 1163.4,544.2 1165.6,544.1 1167.9,543.9 1170.1,543.8 1172.3,543.6 1174.5,543.5 1176.7,543.4 1178.9,543.2 1181.1,543.1 1183.4,542.9 1185.6,542.8 1187.8,542.6 1190,542.5 1192.1,541.6 1194.1,540.6 1196.2,539.7 1198.3,538.8 1200.4,537.9 1202.4,536.9 1204.5,536 1206.3,534.9 1208.2,533.8 1210,532.7 1211.8,531.6 1213.3,530.4 1214.7,529.2 1216.2,528 1217.2,526 1218.1,524.1 1219.1,522.1 1220.1,520.2 1221,518.2 1222,516.3 1223.2,514.6 1224.3,512.8 1225.5,511.1 1226.6,509.3 1227.8,507.6 1228.8,505.7 1229.7,503.7 1230.7,501.8 1231.7,499.9 1232.6,497.9 1233.6,496 1234.6,494.1 1235.7,492.3 1236.7,490.4 1237.8,488.5 1238.8,486.6 1239.9,484.8 1240.9,482.9 1242.1,481 1243.3,479 1244.6,477.1 1245.8,475.2 1247,473.2 1248.2,471.3 1249.6,469.5 1251.1,467.8 1252.5,466 1254,464.3 1255.4,462.5 1257.2,461.1 1259.1,459.8 1260.9,458.4 1262.7,457 1264.5,455.7 1266.3,454.4 1268.2,453.1 1270,451.8 1271.8,450.4 1273.7,449.1 1275.5,447.8 1277.3,446.5 1279.1,445.2 1280.9,444 1282.7,442.7 1284.5,441.4 1286.4,440.2 1288.2,438.9 1290,437.7 1291.8,436.4 1293.8,435.5 1295.8,434.6 1297.8,433.7 1299.9,432.8 1301.9,431.9 1303.9,431 1305.9,430.1 1307.9,429.2 1309.9,428.3 1312,427.4 1314,426.5 1316,425.6 1318,424.7 1320.2,424 1322.4,423.3 1324.5,422.5 1326.7,421.8 1328.9,421.1 1331.1,420.4 1333.3,419.7 1335.4,418.9 1337.6,418.2 1339.8,417.5 1341.9,416.9 1343.9,416.3 1346,415.7 1348,415.1 1350.1,414.5 1352.2,413.9 1354.2,413.2 1356.3,412.6 1358.3,412 1360.4,411.4 1362.4,410.8 1364.5,410.2 1366.6,409.7 1368.8,409.2 1370.9,408.7 1373,408.2 1375.1,407.7 1377.2,407.2 1379.4,406.7 1381.5,405.8 1383.6,406 1385.8,405.5 1387.9,405.3 1390,403.7 1391.9,402.4 1393.8,401 1395.7,399.8 1397.6,399.2 1399.5,396.9 1401.4,396.3 1403.3,394.4 1405.2,393.2 1407.1,392.1 1409.2,393 1411.4,393 1413.5,392.3 1415.7,393 1417.8,393.1 1420,394.6 1422,393.5 1423.9,392.5 1425.9,391.6 1427.8,390.4 1429.8,389.8 1431.8,388.5 1433.7,386.7 1435.7,386.6 1437.6,385.1 1439.6,384.5 1441.5,383.1 1443.4,381.9 1445.3,380.7 1447.1,379.7 1449,378.5 1450.9,377.1 1452.8,377.2 1454.7,376.1 1456.6,375.3 1458.5,373.8 1460.4,372.5 1462.2,371.8 1464.1,369.7 1466,369.5 1467.9,368.1 1469.8,366.6 1471.7,365.6 1473.6,365 1475.5,363.5 1477.3,362.8 1479.2,362 1481.1,360.6 1483,359.1 1484.8,358.5 1486.7,356.9 1488.5,355.7 1490.4,354.4 1492.2,353.5 1494.1,351.9 1495.9,351.6 1497.8,350.9 1499.6,348.8 1501.4,348.1 1503.3,347.3 1505.1,344.7 1507,343.6 1508.8,343.5 1510.7,342.4 1512.5,340.9 1514.3,338.9 1516.2,338.1 1518,337.6 1519.9,336.5 1521.7,335.2 1523.6,333 1525.4,332.8 1527.3,330.9 1529.1,330.2 1530.8,328 1532.5,327.9 1534.2,326 1535.9,324.8 1537.6,322.6 1539.2,321.9 1540.9,320.5 1542.6,319.2 1544.3,317.4 1546,316.7 1547.7,314.7 1549.4,313.3 1551.1,311.7 1552.8,311.2 1554.5,308.9 1556.2,307.7 1557.9,306.1 1559.5,305.7 1561.2,304.2 1562.9,302.8 1564.6,300.6 1566.3,299.9 1568,298.4 1569.7,296.6 1571.8,295.4 1573.8,296 1575.9,293.5 1577.9,292.7 1580,291.6 1582.3,291.9 1584.6,290.8 1586.8,291.1 1589.1,290.7 1591.4,291.1 1593.4,288.8 1595.3,288.4 1597.3,287.6 1599.3,287.4 1601.3,285.7 1603.2,284.6 1605.2,283.9 1607.2,282.3 1609.2,280.9 1611.1,280.7 1613.1,280.4 1614.6,278.5 1616.1,276.1 1617.5,275.2 1619,273.9 1620.5,271.3 1622,270.2 1623.5,268.3 1625,266.5 1626.4,265 1627.9,263.2 1629.4,261.9 1631.3,260.1 1633.2,259.4 1635,257.7 1636.9,257.5 1638.8,256 1640.7,253.8 1642.5,253.8 1644.4,251.6 1646.3,250.8 1648.2,249.6 1650,248 1651.9,246.7 1653.8,245.7 1655.3,243.7 1656.8,243.3 1658.4,240.6 1659.9,240.2 1661.4,237.7 1663,236.3 1664.5,234.9 1666,232.9 1667.5,231.5 1669,230.3 1670.6,228.9 1672.1,228.1 1673.6,226.8 1675.2,223.7 1676.7,223 1678.2,220.8 1679.8,220.3 1681.4,217.9 1683,217.2 1684.6,215.1 1686.2,212.8 1687.8,211 1689.4,209.8 1691,209.2 1692.5,206.5 1694.1,205.4 1695.7,203.7 1697.3,202 1698.9,201.2 1700.5,198.6 1702.1,197.8 1703.7,196.2 1705.3,195 1706.6,192.6 1707.9,191.5 1709.1,188.9 1710.4,187.4 1711.7,185.7 1713,184.3 1714.2,182.7 1715.5,179.7 1716.8,177.9 1718.1,176.8 1719.3,175.5 1720.6,173.3 1721.9,171.2 1723.2,170.5 1724.4,167.7 1725.7,165.6 1727,163.8 1728.1,161.8 1729.2,161 1730.3,158.1 1731.4,157.2 1732.5,155.5 1733.6,153.8 1734.7,151.6 1735.8,149 1736.9,147.4 1738,145.9 1739.1,143.8 1740.2,141.2 1741.3,140 1742.4,137 1743.5,135.4 1744.6,134.6 1745.7,131.9 1746.8,130"/>
<polyline fill="none" stroke="#0072BD" stroke-width="3.5" stroke-dasharray="13 4 6 3.5" stroke-linejoin="round" points="1032,622 1032.6,620.4 1033.2,618.7 1033.6,616.6 1034,614.6 1034.4,612.5 1034.8,610.5 1035.1,608.4 1035.5,606.3 1035.9,604.3 1036.3,602.2 1038,600.8 1039.8,599.5 1041.5,598.1 1043.1,599.7 1044.8,601.4 1046.4,603 1048.1,604.7 1049.7,606.3 1051.9,606.4 1054.1,606.4 1056.3,606.5 1058.5,606.6 1060.6,606.6 1062.8,606.7 1065,606.8 1067.2,606.8 1069.4,606.9 1071.6,606.9 1073.8,607 1076,607.1 1078.1,607.1 1080.3,607.2 1082.5,607.3 1084.7,607.3 1086.9,607.4 1089.1,607.4 1091.3,607.3 1093.5,607.3 1095.7,607.2 1097.9,607.2 1100.1,607.2 1102.4,607.1 1104.6,607.1 1106.8,607 1109,607 1111.2,607 1113.4,606.9 1115.6,606.9 1117.8,606.8 1120,606.8 1122.2,606.8 1124.4,606.7 1126.6,606.7 1128.8,606.7 1131,606.6 1133.2,606.6 1135.5,606.5 1137.7,606.5 1139.9,606.5 1142.1,606.4 1144.3,606.4 1146.5,606.3 1148.7,606.3 1150.9,606.2 1153.1,606.1 1155.4,606.1 1157.6,606 1159.8,605.9 1162,605.8 1164.3,605.8 1166.5,605.7 1168.7,605.6 1170.9,605.5 1173.2,605.5 1175.4,605.4 1177.6,605.3 1179.8,605.2 1182,605.1 1184.3,605.1 1186.5,605 1188.7,604.9 1190.9,604.8 1193.2,604.8 1195.4,604.7 1197.6,604.6 1199.8,604.5 1202.1,604.5 1204.3,604.4 1206.5,604.3 1208.1,603.1 1209.8,601.8 1211.4,600.6 1213.1,599.3 1214.7,598.1 1216.2,596.8 1217.8,595.5 1219.4,594.3 1220.9,593 1223,594.3 1225.1,595.5 1227.1,596.8 1229.2,598.1 1231.2,598.8 1233.3,599.5 1235.3,600.2 1237.4,600.8 1239.5,601.5 1241.5,602.2 1243.7,602.2 1245.9,602.2 1248.1,602.2 1250.3,601.2 1252.5,602.6 1254.7,602.5 1256.9,603.2 1259.1,601.6 1261.3,601.5 1263.5,602.7 1265.7,602.5 1267.9,601.6 1270.1,602.5 1272.3,601.8 1274.5,602.7 1276.7,601.1 1278.9,601.4 1281.1,603 1283.3,601.7 1285.5,601.4 1287.7,602.7 1289.9,602.3 1292.1,601.1 1294.3,602.1 1296.5,602.4 1298.7,601.1 1300.9,602.3 1303.1,601 1305.3,601.5 1307.5,600.9 1309.7,601.2 1311.8,603 1314,601.7 1316.2,603.1 1318.4,601.7 1320.6,602.1 1322.8,602.7 1325,602.3 1327.2,600.9 1329.4,602 1331.6,602.1 1333.8,601 1336,600.8 1338.2,602.7 1340.4,601.8 1342.6,601 1344.8,601.6 1347,601.1 1349.2,602.4 1351.4,601.7 1353.6,600.8 1355.8,602.5 1358,600.7 1360.2,601.2 1362.4,600.5 1364.6,602.2 1366.8,600.7 1369,601.7 1371.2,600.7 1373.4,601.6 1375.6,602.1 1377.8,601.7 1380,601.5 1382.2,601.5 1384.4,601.4 1386.6,601.7 1388.8,600.5 1391,601.4 1393.2,600.8 1395.4,602.3 1397.6,602.4 1399.8,600.3 1402,600.5 1404.2,601.8 1406.4,601.4 1408.6,600.1 1410.8,601.7 1413,602.2 1415.2,601 1417.4,600.8 1419.6,601.3 1421.8,602.1 1424.1,600.5 1426.3,600.5 1428.5,600.2 1430.7,601.3 1432.9,600.8 1435.1,600.3 1437.3,600.6 1439.5,599.7 1441.7,600.4 1443.9,601.9 1446.1,601 1448.3,600.2 1450.5,601.7 1452.7,600.3 1454.9,600 1457.1,599.5 1459.3,599.7 1461.5,599.8 1463.7,599.9 1465.9,601.4 1468.1,599.9 1470.3,599.8 1472.6,600.6 1474.8,601.3 1477,599.8 1479.2,600.9 1481.4,599.9 1483.7,600.3 1485.9,600.4 1488.1,601.2 1490.3,600.7 1492.5,600.1 1494.8,600.8 1497,599.6 1499.2,599.7 1501.4,601 1503.7,600 1505.9,600.5 1508.1,599.3 1510.3,600.7 1512.5,600 1514.8,599.1 1517,600.7 1519.2,599.5 1521.4,599.2 1523.6,598.9 1525.9,598.5 1528.1,598.7 1530.3,599.9 1532.5,598.5 1534.7,598.8 1537,599.2 1539.2,599.4 1541.4,598.9 1543.6,599.9 1545.8,598.6 1548.1,598.8 1550.3,598.9 1552.5,598.2 1554.7,598.4 1556.9,598.1 1559.2,599.5 1561.4,598.1 1563.6,599.3 1565.8,598.2 1568.1,599.2 1570.3,599.2 1572.5,598.4 1574.7,599.7 1576.9,599.1 1579.2,598.8 1581.4,597.5 1583.6,598.3 1585.8,598 1588,598.4 1590.3,599.5 1592.5,599.3 1594.7,597.3 1596.9,598.8 1599.1,599.3 1601.4,598.3 1603.6,597.1 1605.8,598.9 1608,597.8 1610.2,599 1612.5,598.7 1614.7,598.5 1616.9,598.7 1619.1,596.5 1621.3,598.2 1623.6,596.9 1625.8,596.5 1628,597 1630.2,597.4 1632.5,595.9 1634.7,596.9 1636.9,597.6 1639.1,596.9 1641.3,596.9 1643.6,596.2 1645.8,597.8 1648,596 1650.2,596.9 1652.4,596.8 1654.7,595.2 1656.9,597.5 1659.1,595.6 1661.2,597.3 1663.4,597 1665.5,596.8 1667.7,596.6 1669.8,595.4 1672,595.4 1674.1,595.1 1676.3,596.4 1678.4,594.1 1680.5,594.3 1682.7,596.1 1684.8,595.7 1687,595.3 1689.1,595.9 1691.3,594.7 1693.4,595.3 1695.6,594.3 1697.7,595.3 1699.9,593.2 1702,594 1704.2,594.1 1706.5,594.4 1708.7,593.3 1711,593.7 1713.2,594.1 1715.4,592.6 1717.7,591.9 1719.9,591.3 1722.2,593 1724.4,591.9 1726.6,591.5 1728.9,591.6 1731.1,590.4 1733.4,590.4 1735.6,590.2 1737.8,590.1 1740.1,591.3 1742.3,589.6 1744.6,589 1746.8,589.8"/>
<polyline fill="none" stroke="#77AC30" stroke-width="3.5" stroke-dasharray="13 4 6 3.5" stroke-linejoin="round" points="1032,622 1032.6,620.4 1033.2,618.7 1034.9,617.5 1036.5,616.2 1038.2,615 1039.8,613.7 1041.5,612.5 1043.6,611.9 1045.6,611.3 1047.7,610.7 1049.7,610.2 1051.8,609.6 1053.8,609 1055.9,608.4 1058.1,608.4 1060.3,608.4 1062.5,608.3 1064.7,608.3 1066.9,608.3 1069.2,608.3 1071.4,608.2 1073.6,608.2 1075.8,608.2 1078,608.2 1080.2,608.1 1082.4,608.1 1084.6,608.1 1086.8,608.1 1089,608 1091.3,608 1093.5,608 1095.7,608 1097.9,607.9 1100.1,607.9 1102.3,607.9 1104.5,607.9 1106.7,607.9 1108.9,607.8 1111.1,607.8 1113.3,607.8 1115.6,607.8 1117.8,607.7 1120,607.7 1122.2,607.7 1124.4,607.7 1126.6,607.6 1128.8,607.6 1131,607.6 1133.2,607.6 1135.4,607.5 1137.7,607.5 1139.9,607.5 1142.1,607.5 1144.3,607.4 1146.5,607.4 1148.7,607.4 1150.9,607.4 1153.1,607.3 1155.3,607.3 1157.5,607.2 1159.8,607.2 1162,607.2 1164.2,607.1 1166.4,607.1 1168.6,607 1170.8,607 1173,607 1175.2,606.9 1177.4,606.9 1179.7,606.8 1181.9,606.8 1184.1,606.8 1186.3,606.7 1188.5,606.7 1190.7,606.7 1192.9,606.6 1195.1,606.6 1197.3,606.5 1199.5,606.5 1201.8,606.5 1204,606.4 1206.2,606.4 1208.4,606.3 1210.6,606.3 1212.7,605.6 1214.7,604.9 1216.8,604.2 1218.9,603.6 1220.9,602.9 1223,602.2 1225,601.7 1227.1,601.2 1229.2,600.7 1231.2,600.2 1233.4,600.2 1235.6,600.2 1237.8,600.3 1240,600.3 1242.1,600.3 1244.3,600.3 1246.5,600.3 1248.7,600.4 1250.9,601.8 1253.1,598.9 1255.3,601.1 1257.5,599.4 1259.6,601.9 1261.8,599 1264,601.6 1266.2,601.1 1268.4,601.6 1270.6,602.1 1272.8,599.8 1275,600.1 1277.2,601.3 1279.3,600 1281.5,600 1283.7,599.9 1285.9,601.8 1288.1,601.9 1290.3,601.6 1292.5,599.9 1294.7,602.1 1296.8,600.9 1299,600 1301.2,600.7 1303.4,600.6 1305.6,599.6 1307.8,601.1 1310,600.5 1312.2,601.2 1314.4,602.3 1316.5,601.4 1318.7,600.7 1320.9,602.1 1323.1,602.6 1325.3,601.1 1327.5,602.4 1329.7,599.7 1331.9,600.1 1334,600.2 1336.2,602.5 1338.4,601.8 1340.6,601.9 1342.8,600.6 1345,601.3 1347.2,602.5 1349.4,600.1 1351.6,600.2 1353.7,600 1355.9,601.3 1358.1,602.4 1360.3,601.6 1362.5,601.1 1364.7,601.5 1366.9,600.5 1369.1,602.8 1371.2,601.1 1373.4,600.7 1375.6,601 1377.8,602.6 1380,601.1 1382.2,602.8 1384.4,601 1386.6,601.3 1388.8,600.1 1390.9,602.6 1393.1,602.2 1395.3,601.2 1397.5,600.1 1399.7,601.2 1401.9,600.8 1404.1,602.1 1406.3,602.3 1408.5,601.7 1410.7,600.3 1412.8,599.6 1415,602.1 1417.2,602.2 1419.4,599.8 1421.6,600.7 1423.8,600.6 1426,602.1 1428.2,599.2 1430.4,599.3 1432.6,601.6 1434.7,600.7 1436.9,600.3 1439.1,601.2 1441.3,600.6 1443.5,600.9 1445.7,599.5 1447.9,599 1450.1,598.7 1452.3,599.6 1454.5,600.5 1456.6,599.7 1458.8,599.5 1461,600.3 1463.2,600.5 1465.4,600.1 1467.6,599.2 1469.8,600.7 1472,600.6 1474.2,600.8 1476.4,600.8 1478.5,598.1 1480.7,600 1482.9,599 1485.1,599.1 1487.3,599.5 1489.5,598.2 1491.6,598.3 1493.8,600.4 1495.9,598.3 1498,599.8 1500.2,599 1502.3,597.7 1504.5,597.6 1506.6,598.3 1508.8,598.4 1511,597.2 1513.1,596.2 1515.2,596.3 1517.4,598.2 1519.5,597.7 1521.7,595.7 1523.8,597.7 1526,596.7 1528.1,595.9 1530.3,597.4 1532.5,595 1534.8,594.7 1537,595.3 1539.2,596.4 1541.5,595.7 1543.7,595.4 1545.9,596.5 1548.2,594.8 1550.4,595.9 1552.6,593.4 1554.9,595.6 1557.1,593.6 1559.3,594.9 1561.6,595.3 1563.8,594.7 1566,594.3 1568.3,594.1 1570.5,594.6 1572.7,593.3 1575,592.7 1577.2,593.6 1579.4,593.3 1581.7,592 1583.9,593.1 1586.1,593.3 1588.2,592.8 1590.4,594.9 1592.5,595.6 1594.7,594.7 1596.8,596.7 1599,597.5 1601.1,596.9 1603.2,596.6 1605.4,596.6 1607.6,596.1 1609.9,596.4 1612.1,598.5 1614.4,595.6 1616.6,598.1 1618.8,597.3 1621.1,597.5 1623.3,595.4 1625.5,596.9 1627.8,595.5 1630,596.8 1632.2,597.1 1634.5,596.8 1636.7,596.1 1639,597.1 1641.2,595 1643.4,594.7 1645.7,596.7 1647.9,594.2 1650.1,595.2 1652.4,595.1 1654.6,596.4 1656.9,594.8 1659.1,595.3 1661.2,594.8 1663.4,594.5 1665.5,594.2 1667.7,593.9 1669.8,594.1 1672,593.3 1674.1,593 1676.3,594.3 1678.4,594.1 1680.5,591.7 1682.7,593.5 1684.8,590.5 1687,591.2 1689.1,592.6 1691.3,590.1 1693.4,591.4 1695.6,592.1 1697.7,590.7 1699.9,589.9 1702,588.4 1704,588.9 1705.9,588.1 1707.9,588.3 1709.8,586.3 1711.8,586.8 1713.7,584.8 1715.7,584.7 1717.6,584.3 1719.6,581.8 1721.5,583.3 1723.5,581.1 1724.8,579.4 1726.1,579.2 1727.3,576.3 1728.6,574.4 1729.9,571.7 1730.8,569.8 1731.6,569.5 1732.5,566.8 1733.3,565.3 1734.2,563.5 1736.4,564.5 1738.5,564.6 1740.7,567.3 1741.5,568.2 1742.2,569.5 1743,573.7 1743.8,576 1744.5,575.7 1745.3,580.2 1746,581.2 1746.8,583.3"/>
</g>
<clipPath id="clipc"><rect x="579.9" y="777.2" width="748.8" height="611.8"/></clipPath>
<g clip-path="url(#clipc)">
<polyline fill="none" stroke="#D95319" stroke-width="3.2" stroke-linejoin="round" points="581,1387 581,1384 581,1381 581,1378 581,1375 581.1,1372 581.1,1369 581.1,1366 581.1,1363 581.1,1360 581.1,1357 581.1,1354 581.1,1351 581.1,1348 581.1,1345 581.2,1342 581.2,1339 581.2,1336 581.2,1333 581.2,1330 581.2,1327 581.2,1324 581.2,1321 581.2,1318 581.2,1315 581.3,1312 581.3,1309 581.3,1306 581.3,1303 581.3,1300 581.3,1297.1 581.3,1294.1 581.4,1291.2 581.4,1288.2 581.4,1285.3 581.4,1282.3 581.4,1279.4 581.5,1276.4 581.5,1273.5 581.5,1270.5 581.5,1267.6 581.6,1264.6 581.6,1261.7 581.6,1258.7 581.6,1255.8 581.6,1252.8 581.7,1249.9 581.7,1246.9 581.7,1244 582,1246.8 582.4,1249.5 582.7,1252.3 583.1,1255.1 583.4,1257.9 583.8,1260.6 584.1,1263.4 584.2,1266.5 584.4,1269.5 584.5,1272.6 584.7,1275.6 584.8,1278.7 584.9,1281.7 585.1,1284.8 585.2,1287.8 585.4,1290.9 585.5,1294 585.6,1297 585.8,1300.1 585.9,1303.1 586,1306.2 586.2,1309.2 586.3,1312.3 586.5,1315.3 586.6,1318.4 589.8,1320.8 593.1,1320.3 596.4,1319.8 599.3,1319.2 602.3,1318.6 605.2,1318.1 608.2,1318 611.1,1316.9 614.1,1316.3 617,1315.9 620,1314.8 622.9,1314.6 625.8,1314 628.8,1313.5 631.7,1311.9 634.6,1311.4 637.6,1310.4 640.5,1310.6 643.4,1309.7 646.4,1308.2 649.3,1308.6 651.9,1307.5 654.6,1306.1 657.2,1305.1 659.8,1303.5 662.5,1302.3 665.1,1301.9 667.8,1300.3 670.4,1299.4 673.2,1298.5 676,1297.3 678.9,1296.8 681.7,1295.8 684.5,1295.3 687.4,1293.9 690.2,1293.1 693,1291.9 695.8,1291 698.6,1289.6 701.5,1288.2 704.3,1287.9 707.1,1286.8 710,1285.5 712.8,1284.2 715.6,1282.6 718.4,1281 721.2,1279.5 724,1277.8 726.9,1277.1 729.7,1275.2 732.5,1274.2 735.3,1272.3 738.2,1271.7 741,1270.3 743.8,1267.9 746.7,1266.9 749.5,1266.4 751.6,1263.7 753.7,1262.1 755.8,1259.2 758,1256.6 760.1,1254.9 762.2,1252.7 764.3,1250.5 764.4,1247.5 764.6,1244.6 764.7,1241.6 764.8,1238.6 764.9,1235.6 765.1,1232.7 765.2,1229.7 765.3,1226.7 765.5,1223.8 765.6,1220.8 765.7,1217.8 765.9,1214.9 766,1211.9 766.1,1208.9 766.2,1205.9 766.4,1203 766.5,1200 766.5,1197 766.5,1194 766.5,1191 766.6,1188 766.6,1185 766.6,1182 766.6,1179 766.6,1176 766.6,1173 766.7,1170 766.7,1167 766.7,1164 766.7,1161 766.7,1158 766.7,1155 766.8,1152 766.8,1149 766.8,1146 766.8,1143 766.8,1140 766.8,1137 766.9,1134 766.9,1131 766.9,1128 766.9,1125 766.9,1122 766.9,1119 766.9,1116 767,1113 767,1110 767,1107 767,1104 767,1101 767,1098 767.1,1095 767.1,1092 767.1,1089 767.1,1086 767.1,1083 767.1,1080 767.2,1077 767.2,1074 767.2,1071 767.2,1068 767.2,1065 767.2,1062 767.3,1059 767.3,1056 767.3,1053 767.3,1050 767.3,1047 767.3,1044 767.3,1041.1 767.3,1038.1 767.4,1035.1 767.4,1032.2 767.4,1029.2 767.4,1026.2 767.4,1023.2 767.4,1020.2 767.4,1017.3 767.4,1014.3 767.5,1011.3 767.5,1008.4 767.5,1005.4 767.5,1002.4 767.5,999.4 767.5,996.5 767.5,993.5 767.5,990.5 767.6,987.5 767.6,984.5 767.6,981.6 767.6,978.6 767.6,975.6 767.6,972.6 767.6,969.7 767.6,966.7 767.7,963.7 767.7,960.8 767.7,957.8 767.7,954.8 767.7,951.8 767.7,948.9 767.7,945.9 767.8,942.9 767.8,939.9 767.8,937 767.8,934 767.8,931 767.9,934 767.9,936.9 768,939.9 768,942.8 768.1,945.8 768.2,948.7 768.2,951.6 768.3,954.6 768.3,957.5 768.4,960.5 768.5,963.5 768.5,966.4 768.6,969.4 768.6,972.3 768.7,975.2 768.8,978.2 768.8,981.1 768.9,984.1 768.9,987 769,990 769,993 769.1,996 769.1,999.1 769.1,1002.1 769.1,1005.1 769.2,1008.1 769.2,1011.1 769.2,1014.2 769.3,1017.2 769.3,1020.2 769.3,1023.2 769.3,1026.2 769.4,1029.2 769.4,1032.3 769.4,1035.3 769.5,1038.3 769.5,1041.3 769.5,1044.3 769.5,1047.4 769.6,1050.4 769.6,1053.4 769.6,1056.4 769.7,1059.4 769.7,1062.5 769.7,1065.5 769.7,1068.5 769.8,1071.5 769.8,1074.5 769.8,1077.5 769.8,1080.6 769.9,1083.6 769.9,1086.6 769.9,1089.6 770,1092.6 770,1095.7 770,1098.7 770,1101.7 770.1,1104.7 770.1,1107.7 770.1,1110.8 770.2,1113.8 770.2,1116.8 770.2,1119.8 770.2,1122.8 770.3,1125.8 770.3,1128.9 770.3,1131.9 770.4,1134.9 770.4,1137.9 770.4,1140.9 770.4,1144 770.5,1147 770.5,1150 770.6,1153 770.6,1156.1 770.7,1159.1 770.7,1162.1 770.8,1165.2 770.9,1168.2 770.9,1171.2 771,1174.2 771,1177.3 771.1,1180.3 771.1,1183.3 771.2,1186.4 771.3,1189.4 771.3,1192.4 771.4,1195.5 771.4,1198.5 771.5,1201.5 771.6,1204.6 771.6,1207.6 771.7,1210.6 771.7,1213.7 771.8,1216.7 771.8,1219.7 771.9,1222.7 772,1225.8 772,1228.8 772.1,1231.8 772.1,1234.9 772.2,1237.9 772.4,1240.8 772.6,1243.8 772.9,1246.7 773.1,1249.7 773.3,1252.6 773.5,1255.5 773.8,1258.5 774,1261.4 774.2,1264.3 774.4,1267.3 774.6,1270.2 774.9,1273.2 775.1,1276.1 775.3,1279 775.5,1282 775.8,1284.9 776,1287.9 776.2,1290.8 777.1,1293.4 778,1296.1 778.9,1298.7 779.7,1301.3 780.6,1304 781.5,1306.6 784.8,1307.3 788.1,1307.9 791.4,1308.6 794.7,1309.3 797.7,1309.3 800.8,1309.5 803.8,1309.7 806.9,1309 809.9,1308.7 813,1309.1 816,1309.9 819.1,1309.7 822.1,1308.8 825.2,1308.9 828.2,1308.7 831.3,1308.7 834.3,1309.7 837.4,1309 840.6,1309.8 843.7,1309.8 846.9,1309.7 850,1310.6 853.1,1309.6 856.2,1310.2 859.2,1309.3 862.3,1309.6 865.4,1309.1 868.5,1309 871.5,1309.9 874.6,1309.5 877.7,1308.6 880.8,1309.3 883.8,1308.2 886.9,1308.3 890,1308.8 893.1,1308.3 896.1,1307.4 899.2,1308.5 902.3,1307.3 905.4,1307.2 908.4,1307.7 911.5,1306.9 914.6,1306.7 917.6,1306.3 920.7,1306.1 923.8,1306.7 926.9,1306.1 929.9,1306.4 933,1305.9 936,1305.6 939.1,1305.9 942.1,1304.8 945.1,1304.5 948.1,1304.5 951.2,1303.1 954.2,1302.6 957.2,1303.3 960.2,1302.7 963.3,1301.5 966.3,1301 969.5,1301.9 972.6,1302.3 975.8,1301.4 978.9,1302.7 982.1,1302.7 985.2,1302.5 988.4,1302.4 991.4,1302.2 994.3,1302.4 997.3,1303.9 1000.3,1303.2 1003.3,1304.1 1006.2,1303.7 1009.2,1304.8 1012.2,1304.7 1015.1,1304.5 1018.1,1304.6 1021.1,1305.6 1024.1,1305 1027,1305.5 1030,1306.2 1033,1306.9 1035.9,1306.9 1038.9,1306.8 1041.9,1308 1044.8,1307.4 1047.8,1307.4 1050.8,1308.1 1053.7,1308.7 1056.7,1308.5 1059.6,1309 1062.6,1309.6 1065.6,1310.2 1068.5,1309.9 1071.5,1310.6 1074.4,1311.8 1077.3,1312.3 1080.2,1312.3 1083.2,1312.7 1086.1,1313 1089,1312.8 1091.9,1313 1094.8,1313.4 1097.7,1315.1 1100.7,1315.2 1103.6,1316 1106.5,1315.1 1109.4,1316.3 1112.3,1316.5 1115.2,1317.3 1118.2,1317.1 1121.1,1318.5 1124,1317.6 1126.9,1318.7 1129.8,1319.3 1132.7,1319.9 1135.6,1320 1138.5,1320.3 1141.5,1320.8 1144.4,1321.4 1147.3,1320.9 1150.2,1321.8 1153.1,1322.4 1156,1322.8 1158.9,1322.5 1161.8,1323.4 1164.7,1323.8 1167.6,1323.8 1170.6,1324.2 1173.5,1324.2 1176.4,1324.9 1179.3,1325.3 1182.2,1324.9 1185.3,1326 1188.4,1326.8 1191.4,1327 1194.5,1327.1 1197.6,1326.9 1200.7,1327.7 1203.7,1327.8 1206.8,1327.9 1209.9,1328.8 1212.9,1327.9 1215.8,1329 1218.8,1328.2 1221.8,1329.2 1224.7,1329.2 1227.7,1329.1 1230.7,1329.9 1233.6,1329.8 1236.6,1330.2 1239.5,1330.8 1242.5,1330.1 1245.5,1329.9 1248.4,1330.5 1251.4,1331.2 1254.5,1330.5 1257.6,1330.4 1260.6,1331.3 1263.7,1330.9 1266.8,1330.5 1269.9,1331 1272.9,1330.1 1276,1330.5 1279.1,1329.8 1282.2,1329.7 1285.3,1329.9 1288.3,1329.7 1291.4,1329.3 1294.5,1328.2 1297.6,1328.1 1300.6,1327.4 1303.7,1326.8 1306.8,1326.9 1309.7,1327.1 1312.6,1326.8 1315.5,1326.4 1318.3,1326.4 1321.2,1325.2 1324.1,1324.8 1327,1325"/>
<polyline fill="none" stroke="#EDB120" stroke-width="3.2" stroke-dasharray="10.5 11" stroke-linejoin="round" points="584.1,1203.4 588.2,1192.1 599.5,1179.1 612.5,1169.4 628.7,1158.1 649.3,1148 675.7,1134.8 702.2,1126.9 728.6,1119 755,1108.4 765.6,1103.1 765.8,834.9 771.7,845.8 777.7,871.5 783.6,895.3 791.5,913.2 799.5,927.1 815.3,937 829.2,941.9 849,944.9 868.9,943.9 898.6,940.9 905.4,941.6 933,938.9 974.6,933.3 1016.1,920.9 1057.6,915.3 1099.2,911.2 1126.9,908.4 1140.7,907 1182.2,908.4 1209.9,914 1251.4,922.3 1293,934.7 1327,946"/>
<polyline fill="none" stroke="#7E2F8E" stroke-width="3.2" stroke-dasharray="3 3.2" stroke-linejoin="round" points="580.9,1206.7 581.1,1207.9 581.3,1209.2 581.5,1210.4 581.6,1211.7 581.8,1212.9 582,1214.2 582.2,1215.4 582.4,1216.7 582.6,1217.9 582.7,1219.2 582.9,1220.4 583.1,1221.7 583.3,1222.9 583.4,1224.2 583.5,1225.5 583.6,1226.7 583.7,1228 583.7,1229.3 583.8,1230.6 583.9,1231.9 584,1233.1 584.1,1234.4 584.2,1235.7 584.3,1237 584.4,1238.2 584.5,1239.5 584.6,1240.8 584.6,1242.1 584.7,1243.4 584.8,1244.6 584.9,1245.9 585,1247.2 585.2,1248.5 585.4,1249.8 585.6,1251.2 585.8,1252.5 586,1253.8 586.2,1255.1 586.4,1256.5 586.6,1257.8 586.8,1259.1 587.5,1258 588.3,1256.8 589,1255.7 589.8,1254.6 590.5,1250.8 591.3,1254.3 592.2,1253.6 593.2,1254.6 594.1,1246.6 595.1,1246.3 596,1244.7 597,1244.8 597.9,1251.3 598.9,1245.6 599.8,1250.9 600.7,1248.4 601.7,1250.2 602.6,1252.6 603.7,1257.9 604.9,1256.1 606,1250.4 607.1,1254 608.3,1253.3 609.4,1262.1 610.5,1261.1 611.6,1260.8 612.8,1260.7 613.9,1259.5 614.3,1260.5 614.7,1257.5 615,1250.4 615.4,1255.6 615.8,1250.4 616.2,1252.1 616.5,1248.7 616.9,1246 617.3,1244 618.4,1244.1 619.6,1242.2 620.7,1239.4 621.8,1246.4 622.9,1245.6 624.1,1247 625.2,1243.1 626.1,1240.8 627.1,1242.2 628,1234.7 628.9,1239.9 629.9,1236.6 630.8,1232.9 631.9,1232.5 633.1,1235.4 634.2,1231.7 635.4,1233.3 636.5,1234.3 637.5,1231.2 638.4,1227.4 639.4,1230.6 640.4,1227 641.4,1226.2 642.3,1224.9 643.3,1226 644.2,1221.9 645.1,1227.3 646,1229.7 646.9,1222.6 647.8,1225.3 648.5,1226.5 649.2,1215.6 649.9,1215.6 650.6,1221.8 651.3,1221 652,1217.7 652.7,1211.3 653.4,1212.9 654.5,1218.6 655.7,1219.5 656.8,1219.3 658,1213.4 659.1,1221.2 660.2,1216.7 661.4,1221.1 662.5,1215.5 663.1,1223.4 663.6,1218.2 664.2,1218.2 664.7,1211.4 665.3,1214.6 665.9,1212.9 666.4,1211.8 667,1208 667.5,1210.8 668.1,1205.4 668.9,1203.7 669.6,1201.1 670.4,1205.7 671.2,1198.3 671.9,1198.4 672.7,1195.6 673.8,1202.3 674.9,1201.8 676.1,1202.2 677.2,1197.1 678.3,1201.9 678.9,1199.7 679.4,1195.9 680,1193.7 680.6,1203.5 681.1,1192.8 681.7,1193.6 682.8,1192.6 684,1195.5 685.1,1189.1 686.2,1192.7 687.4,1190.9 688.5,1195.4 689.6,1185.6 690.7,1188.5 691.9,1189.6 693,1194.2 694.1,1188.5 695.3,1187.4 696.4,1188.9 697.5,1184.1 698.6,1180.5 699.8,1185 700.9,1188.8 702,1186.3 703.2,1180.3 704.3,1184.3 705.4,1185.4 706.5,1178.1 707.6,1180.9 708.7,1177.6 709.8,1175.6 711,1175.3 712.1,1173.6 713.2,1174.4 714.3,1170.2 715.4,1173.4 716,1168.8 716.5,1175 717.1,1172.1 717.7,1164.4 718.3,1171.8 718.8,1164.2 719.4,1166.2 720,1165.9 720.6,1162.3 721.1,1160.7 721.7,1161.1 722.3,1156.7 722.9,1163.5 723.4,1154.1 724,1160.8 724.6,1153 725.2,1152.7 725.7,1152.5 726.3,1147.5 726.9,1147.4 727.5,1148.8 728,1148.5 728.6,1152.1 729.6,1152.6 730.6,1141.4 731.6,1146 732.7,1140.7 733.7,1147.3 734.7,1141.2 735.7,1146.7 736.7,1142 737.7,1136.6 738.8,1134.5 739.8,1136.3 740.8,1142.4 741.8,1133.6 742.1,1136 742.4,1133.5 742.8,1132 743.1,1135.7 743.4,1128 743.7,1132.3 744,1130.4 744.4,1132.1 744.7,1126.3 745,1129.4 745.3,1122.9 745.6,1123 746,1122.3 746.3,1123.4 746.6,1122.8 746.9,1112.9 747.2,1111.9 747.6,1115 747.9,1116.8 748.2,1112.4 748.5,1108.6 748.8,1114.6 749.2,1106 749.5,1102.4 749.8,1100.8 751.1,1100.2 752.4,1107.5 753.7,1100.4 755,1106.8 756.4,1108.1 757.7,1109.2 759,1106.8 760.3,1102.3 761.4,1105 762.4,1107.8 763.5,1107 764.5,1105.2 765.6,1105.7 765.6,1104.4 765.6,1103.1 765.6,1101.8 765.6,1100.5 765.6,1099.2 765.6,1097.9 765.6,1096.6 765.6,1095.3 765.6,1094 765.6,1092.7 765.6,1091.4 765.6,1090.1 765.6,1088.8 765.6,1087.4 765.6,1086.1 765.6,1084.8 765.6,1083.5 765.6,1082.2 765.6,1080.9 765.6,1079.6 765.6,1078.3 765.6,1077 765.6,1075.7 765.6,1074.4 765.6,1073.1 765.6,1071.8 765.6,1070.5 765.6,1069.2 765.6,1067.9 765.6,1066.6 765.6,1065.3 765.6,1064 765.6,1062.7 765.6,1061.4 765.7,1060.1 765.7,1058.8 765.7,1057.5 765.7,1056.2 765.7,1054.9 765.7,1053.6 765.7,1052.3 765.7,1050.9 765.7,1049.6 765.7,1048.3 765.7,1047 765.7,1045.7 765.7,1044.4 765.7,1043.1 765.7,1041.8 765.7,1040.5 765.7,1039.2 765.7,1037.9 765.7,1036.6 765.7,1035.3 765.7,1034 765.7,1032.7 765.7,1031.4 765.7,1030.1 765.7,1028.8 765.7,1027.5 765.7,1026.2 765.7,1024.9 765.7,1023.6 765.7,1022.3 765.7,1021 765.7,1019.7 765.7,1018.4 765.7,1017.1 765.7,1015.7 765.7,1014.4 765.7,1013.1 765.7,1011.8 765.7,1010.5 765.7,1009.2 765.7,1007.9 765.7,1006.6 765.7,1005.3 765.7,1004 765.7,1002.7 765.7,1001.4 765.7,1000.1 765.7,998.8 765.7,997.5 765.7,996.2 765.7,994.9 765.7,993.6 765.7,992.3 765.7,991 765.7,989.7 765.7,988.4 765.7,987.1 765.7,985.8 765.7,984.5 765.7,983.2 765.7,981.9 765.7,980.5 765.7,979.2 765.7,977.9 765.7,976.6 765.7,975.3 765.7,974 765.7,972.7 765.8,971.4 765.8,970.1 765.8,968.8 765.8,967.5 765.8,966.2 765.8,964.9 765.8,963.6 765.8,962.3 765.8,961 765.8,959.7 765.8,958.4 765.8,957.1 765.8,955.8 765.8,954.5 765.8,953.2 765.8,951.9 765.8,950.6 765.8,949.3 765.8,948 765.8,946.7 765.8,945.4 765.8,944 765.8,942.7 765.8,941.4 765.8,940.1 765.8,938.8 765.8,937.5 765.8,936.2 765.8,934.9 765.8,933.6 765.8,932.3 765.8,931 765.8,929.7 765.8,928.4 765.8,927.1 766.5,928.2 767.1,929.3 767.8,930.4 768.4,931.5 769.1,932.6 769.7,933.7 770.4,934.8 771,935.9 771.7,937 772.2,938.2 772.8,939.4 773.4,940.6 773.9,941.8 774.5,943.1 775,941.8 775.6,948.6 776.1,942 776.7,945.6 777.2,955.1 777.8,950 778.3,948.7 778.9,956.2 779.4,953.4 780,949.2 780.5,950.7 781.1,954.7 781.6,956.8 782.8,964.5 784.1,956.7 785.3,964.5 786.5,965 787.8,960.2 789,967.6 790.3,965.4 791.5,962.5 792.3,960.8 793.2,964.2 794,970.5 794.8,967.1 795.7,964 796.5,967.2 797.3,969.4 798.2,966.9 799,972.5 799.8,967 800.7,977.5 801.5,970.7 802.3,970.9 803,977.8 803.8,975.5 804.5,983.5 805.3,979.9 806.1,981.3 806.8,986.1 807.6,979.7 808.4,987.2 809.1,987.1 809.9,985.5 810.6,992.9 811.4,982.8 812.1,993.9 812.8,986.3 813.5,995.7 814.2,988.6 814.9,988.4 815.6,994.8 816.3,1001 817,994 817.7,997.8 818.4,1000.3 819.1,997 819.8,1001.5 820.5,996.3 821.2,1002.6 821.9,1007.4 822.6,1003.4 823.3,1003 824.2,1000.1 825.1,1007 825.9,1002.9 826.8,1007.8 827.7,1004.8 828.6,996.3 829.4,1005.1 830.3,1004.5 831.2,1002.2 831.8,1001.2 832.3,998.3 832.9,997.7 833.5,995.9 834,993.8 834.6,988.7 835.2,986.1 835.7,992.1 836.3,989.4 836.8,981.8 837.4,987.7 838,986.2 838.5,983.9 839.1,985.9 839.9,986.1 840.8,979.2 841.6,983.4 842.4,978.6 843.2,978.5 844,975.6 844.9,980.9 845.7,974 846.5,979.1 847.4,970.7 848.2,973.8 849,975.7 850.2,973.4 851.5,970.2 852.8,967.1 854,972.4 855.2,972.1 856.5,977.4 857.8,977.5 859,980.4 860,973.2 861,971.9 862,973 863,974.4 864,965.6 864.9,966.4 865.9,964.8 866.9,966.2 867.9,965.1 868.9,972.3 870.1,962.6 871.2,970.8 872.4,962.5 873.5,960.9 874.7,969.5 875.9,958.3 877,958.1 878.2,957.7 879.3,956.4 880.5,959.6 881.3,958.5 882.1,958.9 882.9,958.2 883.6,967.4 884.4,960.6 885.2,963.7 886,968.7 886.8,973.5 887.6,971.8 888.4,973.4 889.1,974.3 889.9,976.5 890.7,978.1 891.5,970.8 892.5,970.3 893.5,977.9 894.5,977.5 895.5,978.3 896.5,982.2 897.5,975.7 898.5,982.9 899.4,980.4 900.4,981.1 901.4,979.8 902.4,981 903.4,985.4 904.4,985.9 905.4,990.9 906.6,982.7 907.8,987.3 909.1,979.3 910.3,985.3 911.5,978.8 912.7,986.6 914,987.2 915.2,978.1 916.4,984.1 916.9,975.8 917.4,975.7 917.9,972.1 918.4,975 918.9,969.7 919.4,975.7 919.9,973 920.4,970 920.9,972.2 921.4,965.3 921.9,965.3 922.4,964.5 922.9,959 923.3,968.4 923.8,957.7 924.3,956.6 924.8,963.8 925.3,962.9 925.8,957.2 926.3,955.7 926.8,951.2 927.3,948.3 927.8,953.4 928.3,948.9 928.8,946.6 929.3,954.4 929.8,942.6 930.3,945.5 931.5,949.7 932.7,949.2 933.9,941 935,948.1 936.2,945.5 937.4,945.8 938.6,949.1 939.8,946.8 941,944 942.2,945.5 943.3,941.7 944.5,941.9 945.7,944.6 946.9,941.7 947.9,937.9 948.9,932.8 949.9,941.1 950.8,934.8 951.8,935 952.8,932.4 953.8,934.7 954.8,932 955.8,936.3 956.8,932.5 957.7,931.2 958.7,933 959.7,928 960.7,928.2 961.5,931.8 962.3,932.4 963.2,933.7 964,936.4 964.8,933.4 965.6,934.3 966.4,930.9 967.2,932.5 968.1,935.8 968.9,937.6 969.7,943.3 970.5,934 971.3,938.7 972.1,944.4 973,942 973.8,947.6 974.6,940.3 975.1,946.4 975.5,941.1 976,941.5 976.4,934.2 976.9,937.1 977.4,940.7 977.8,938.6 978.3,935.3 978.8,932.4 979.2,926.6 979.7,933.3 980.1,929 980.6,931.1 981.1,928.6 981.5,924.8 982,929.3 982.4,919.1 982.9,927.8 984,918 985.2,929.2 986.3,925.3 987.5,924.3 988.6,930.8 989.7,926.3 990.9,926.9 992,922.2 993.2,931.7 994.3,930.4 995.5,926.3 996.6,925.4 997.7,929.8 998.9,936.6 1000,936.5 1001.2,932.2 1002.3,927.7 1003.1,936.3 1004,927.8 1004.8,933.2 1005.7,929.4 1006.5,934.1 1007.3,923.3 1008.2,930.1 1009,928.3 1009.9,918.9 1010.7,924.5 1011.5,920.3 1012.4,924.1 1013.2,926.3 1014,921.8 1014.9,918.8 1015.7,919.2 1016.6,913.9 1017.4,915.6 1018.2,910.4 1019.1,916.7 1019.9,907.9 1020.8,912.5 1021.6,907.4 1022.4,912.9 1023.3,907.8 1024.1,908.4 1025,916.6 1025.8,918.7 1026.6,921.7 1027.5,920.1 1028.3,924.9 1029.2,915.6 1030,922.4 1031.3,922.4 1032.6,916.6 1033.9,916 1035.1,917.1 1036.4,920.3 1037.7,923.3 1039,922.2 1040.3,920.3 1041.6,914.2 1042.9,921.8 1044.2,919.1 1045.4,914.8 1046.7,920 1048,915.3 1049.3,915.9 1050.2,916.7 1051,919.3 1051.9,910.6 1052.7,913.7 1053.6,910.2 1054.4,914.5 1055.3,915.3 1056.1,907.7 1057,912.2 1057.8,908.2 1058.7,904.2 1059.5,904 1060.4,906.2 1061.2,908.4 1062.1,905 1062.9,896.8 1063.8,905.2 1064.6,901.8 1065.5,899 1066.3,895.8 1067.1,897.3 1068,899.3 1068.8,893.3 1069.7,890.7 1070.5,898.7 1071.4,892.5 1072.2,887 1073.1,895.9 1073.9,885.6 1074.7,887.7 1075.6,889.8 1076.4,889.3 1077.3,891.2 1078.1,881.5 1079,885.3 1079.8,888.1 1081.1,883.1 1082.4,886.1 1083.7,883.1 1085,886.1 1086.3,889 1087.6,881.6 1088.9,886.3 1090.1,881.6 1091.4,888.2 1092.7,886.7 1094,887.8 1095.3,888 1096.6,884.6 1097.9,888.9 1099.2,879.4 1100.1,883.5 1101,876.6 1102,881.7 1102.9,882.1 1103.8,876.3 1104.7,881.7 1105.6,876.1 1106.6,872.5 1107.5,871.5 1108.4,875.2 1109.3,872 1110.2,867 1111.2,869.2 1112.1,876.3 1113,869.4 1114.3,871.9 1115.5,868.8 1116.8,864.6 1118.1,871 1119.3,866.2 1120.6,865.2 1121.8,871.1 1123.1,871.8 1124.4,863.8 1125.6,875.1 1126.9,863.9 1127.9,866.4 1128.9,869.2 1129.9,875.5 1130.9,875.6 1131.9,876.4 1132.9,873.4 1133.9,879.9 1134.9,871.3 1135.9,882 1136.9,871.8 1137.9,873.8 1138.9,880.1 1139.9,879.5 1140.9,877.4 1141.9,871.5 1142.9,878 1144,872.9 1145,868.3 1146,866.1 1147,875.9 1148,863.9 1149,864.9 1150,865.8 1151,871.4 1152.1,869.9 1153.1,869.2 1154.1,865.9 1155.1,857.6 1156.1,865.6 1157.2,858.2 1158.2,866.5 1159.2,865.9 1160.2,854.3 1161.3,861.5 1162.3,854.8 1163.3,852.4 1164.3,860.8 1165.3,854.8 1166.4,852.2 1167.4,854.6 1168.4,847.9 1169.3,851.3 1170.2,853 1171.2,854.7 1172.1,844.9 1173,853.2 1173.9,842.8 1174.8,843.1 1175.8,843.7 1176.7,840.8 1177.6,838.9 1178.5,844.8 1179.4,840.8 1180.4,837.3 1181.3,840.3 1182.2,834.7 1183.5,841.4 1184.7,844.8 1186,838.8 1187.3,838.3 1188.5,838 1189.8,837.6 1191,838.2 1192.3,835.3 1193.6,836.8 1194.8,841.5 1196.1,839 1196.8,835.1 1197.5,837 1198.2,846.4 1198.8,841.6 1199.5,848.3 1200.2,846.8 1200.9,848 1201.6,845.8 1202.4,847.4 1203.2,844.4 1204,844.5 1204.8,848.6 1205.7,837.5 1206.5,837.7 1207.3,844.9 1208.1,844.2 1208.9,841.7 1209.7,841.2 1210.5,831.1 1211.3,837.4 1212.2,829.2 1213,836.9 1213.8,830.4 1214.6,830.4 1215.4,829.7 1216.1,827 1216.8,832.4 1217.5,837 1218.2,833.1 1218.9,834 1219.6,834.1 1220.3,833.1 1221,835.2 1221.7,842.9 1222.4,845.5 1223.1,839.5 1223.8,839.4 1224.7,841 1225.6,848.2 1226.6,841.9 1227.5,841.9 1228.4,844.4 1229.3,842.6 1230.3,844.2 1231.2,846.2 1232.1,852.1 1233,856.4 1233.9,849.3 1234.9,850.6 1235.8,855 1236.7,849.3 1237.6,850.9 1238.6,857.6 1239.5,857.3 1240.4,856.8 1241.2,856.6 1242,850.9 1242.8,852.8 1243.5,850.8 1244.3,850.5 1245.1,847.5 1245.9,855.5 1246.7,844.9 1247.5,848.7 1248.3,844.8 1249,844.2 1249.8,849.9 1250.6,851.3 1251.4,850.4 1252.2,841.7 1252.9,843.2 1253.7,840.8 1254.5,835.6 1255.2,838.6 1256,839.8 1256.8,836.2 1257.5,839.8 1258.3,834.7 1259.1,831.8 1259.8,838 1260.6,833 1261.4,828.2 1262.1,834.9 1262.9,828.8 1263.6,829.2 1264.4,826.5 1265.2,830.2 1265.9,827.6 1266.7,823.1 1267.5,821.1 1268.2,824.9 1269,824.7 1269.8,820.8 1270.5,823 1271.3,817.8 1272.1,815.4 1272.8,813.2 1273.6,811.5 1274.7,810.8 1275.8,820.8 1276.9,817 1278,812.1 1279.2,814.3 1280.3,817.5 1281.4,822.8 1282.5,824.1 1283.6,823.6 1284.7,818.7 1286,819.8 1287.2,825.6 1288.5,818.4 1289.7,821 1291,813.3 1292.2,818 1293.5,817.8 1294.7,822.1 1296,822.2 1297.2,819.2 1298.5,813.7 1299.1,821.2 1299.7,822.8 1300.3,813.8 1300.9,819.1 1301.6,821.7 1302.2,819.8 1302.8,820.1 1303.4,827.7 1304,821.9 1304.4,824.8 1304.9,817.2 1305.3,821.3 1305.8,826.1 1306.2,813.3 1306.7,813.4 1307.1,821.7 1307.6,820.6 1308,814.5 1308.4,810.7 1308.9,809.6 1309.3,813.6 1309.8,810.5 1310.2,807.7 1310.7,809.4 1311.1,801.1 1311.5,803.3 1312,808 1312.4,807.2 1312.9,800.8 1313.3,803.2 1313.8,803.2 1314.2,797.6 1314.7,791.8 1315.1,790.2 1315.9,796 1316.8,791 1317.6,792.2 1318.5,785.4 1319.3,795.3 1320.2,786.3 1321,789.6 1321.9,788.4 1322.8,784.2 1323.6,781.5 1324.5,784.7 1325.3,780.9 1326.2,782 1327,781"/>
<polyline fill="none" stroke="#0072BD" stroke-width="3.2" stroke-dasharray="10.7 3.4 4.5 4" stroke-linejoin="round" points="580,1387 580,1384.8 580,1382.6 580,1380.4 580,1378.2 580,1376 580,1373.8 580,1371.6 580,1369.4 580,1367.2 580,1365 580,1362.8 580,1360.6 580,1358.4 580,1356.2 580,1354 580,1351.8 580,1349.6 580,1347.4 580,1345.2 580,1343 580,1340.8 580,1338.6 580,1336.4 580,1334.2 580,1332 580,1329.8 580,1327.6 580,1325.4 580,1323.2 580,1321 580,1318.8 580,1316.6 580,1314.4 580,1312.2 580,1310 580,1307.8 580,1305.6 580,1303.4 580,1301.2 580,1299 580,1296.8 579.9,1294.7 579.9,1292.5 579.9,1290.3 579.9,1288.1 579.9,1285.9 579.9,1283.7 579.9,1281.5 579.9,1279.3 579.9,1277.1 579.9,1274.9 579.9,1272.7 579.9,1270.5 579.9,1268.3 579.9,1266.1 579.9,1263.9 579.9,1261.7 579.9,1259.5 579.9,1257.3 579.9,1255.1 579.9,1252.9 579.9,1250.7 579.9,1248.5 579.9,1246.3 579.9,1244.1 579.9,1241.9 579.9,1239.7 579.9,1237.5 579.9,1235.3 579.9,1233.1 579.9,1230.9 579.9,1228.7 579.9,1226.5 579.9,1224.3 579.9,1222.1 579.9,1219.9 579.9,1217.7 579.9,1215.5 579.9,1213.3 579.9,1211.1 579.9,1208.9 579.9,1206.7 581,1205.1 582.2,1203.4 583.3,1201.8 584,1203.7 584.6,1205.7 585.3,1207.6 585.9,1209.6 586.6,1211.5 586.8,1213.6 587.1,1215.7 587.3,1217.8 587.6,1220 587.8,1222.1 588.1,1224.2 588.3,1226.3 588.6,1228.4 588.8,1230.5 589.1,1232.7 589.3,1234.8 589.6,1236.9 589.8,1239 590.1,1241.2 590.4,1243.4 590.7,1245.7 591,1247.9 591.3,1250.1 591.5,1252.3 591.8,1254.5 592.1,1256.7 592.4,1259 592.7,1261.2 593,1263.4 593.2,1265.7 593.5,1268 593.7,1270.3 594,1272.5 594.2,1274.8 594.5,1277.1 594.7,1279.4 596.8,1279.2 599,1278.9 601.1,1277.6 603.2,1279 605.4,1278.6 607.5,1279.2 609.6,1277 611.8,1276.8 613.9,1277.9 616,1277.3 618.1,1276 620.1,1276.8 622.2,1275.7 624.3,1276.4 626.4,1274.3 628.5,1274.3 630.6,1275.9 632.6,1274 634.7,1273.4 636.8,1274.7 639,1273.8 641.3,1272.1 643.5,1272.8 645.8,1272.7 648,1271 650.2,1271.9 652.5,1270.1 654.7,1270.3 657,1269.2 659.2,1269.2 661.4,1271 663.7,1269 665.9,1270.2 668.2,1268.3 670.4,1268.4 672.7,1268.9 674.9,1268.2 677.2,1266.4 679.4,1267.5 681.7,1267.4 684,1265.9 686.2,1265.4 688.5,1267.4 690.7,1266.2 693,1265 695.3,1265.3 697.5,1264.2 699.8,1265.4 702,1264.1 704.3,1262.5 706.6,1264.1 708.8,1261.6 711.1,1261.7 713.3,1260.5 715.6,1262.1 717.9,1260.1 720.1,1261 722.4,1259.6 724.6,1260.4 726.9,1260.8 729.2,1260.1 731.4,1259.7 733.7,1259.5 735.9,1259.2 738.2,1259.4 740.3,1257.7 742.4,1258.5 744.5,1257.5 746.7,1259 748.8,1258.9 750.9,1256.2 753,1256.1 755.1,1257.4 756.9,1255.9 758.8,1253.2 760.6,1253.4 762.5,1252.2 764.3,1251.1 764.3,1248.9 764.3,1246.7 764.3,1244.5 764.3,1242.3 764.4,1240.1 764.4,1237.9 764.4,1235.7 764.4,1233.5 764.4,1231.3 764.4,1229.1 764.4,1226.9 764.4,1224.7 764.4,1222.5 764.5,1220.3 764.5,1218.1 764.5,1215.9 764.5,1213.7 764.5,1211.5 764.5,1209.2 764.5,1207 764.5,1204.8 764.6,1202.6 764.6,1200.4 764.6,1198.2 764.6,1196 764.6,1193.8 764.6,1191.6 764.6,1189.4 764.6,1187.2 764.6,1185 764.7,1182.8 764.7,1180.6 764.7,1178.4 764.7,1176.2 764.7,1174 764.7,1171.8 764.7,1169.6 764.7,1167.4 764.7,1165.2 764.8,1163 764.8,1160.8 764.8,1158.6 764.8,1156.4 764.8,1154.2 764.8,1152 764.8,1149.8 764.8,1147.6 764.8,1145.4 764.9,1143.2 764.9,1141 764.9,1138.8 764.9,1136.6 764.9,1134.4 764.9,1132.2 764.9,1130 764.9,1127.8 765,1125.5 765,1123.3 765,1121.1 765,1118.9 765,1116.7 765,1114.5 765,1112.3 765,1110.1 765,1107.9 765.1,1105.7 765.1,1103.5 765.1,1101.3 765.1,1099.1 765.1,1096.9 765.1,1094.7 765.1,1092.5 765.1,1090.3 765.1,1088.1 765.2,1085.9 765.2,1083.7 765.2,1081.5 765.2,1079.3 765.2,1077.1 765.2,1074.9 765.2,1072.7 765.2,1070.5 765.2,1068.3 765.3,1066.1 765.3,1063.9 765.3,1061.7 765.3,1059.5 765.3,1057.3 765.3,1055.1 765.3,1052.9 765.3,1050.7 765.3,1048.5 765.4,1046.3 765.4,1044.1 765.4,1041.8 765.4,1039.6 765.4,1037.4 765.4,1035.2 765.4,1033 765.4,1030.8 765.5,1028.6 765.5,1026.4 765.5,1024.2 765.5,1022 765.5,1019.8 765.5,1017.6 765.5,1015.4 765.5,1013.2 765.5,1011 765.6,1008.8 765.6,1006.6 765.6,1004.4 765.6,1002.2 765.6,1000 765.9,998 766.2,996 766.5,994 767,996 767.5,998 768,1000 768.2,1002.2 768.3,1004.4 768.5,1006.6 768.6,1008.8 768.8,1011 768.9,1013.2 769.1,1015.4 769.2,1017.6 769.4,1019.8 769.5,1022 769.7,1024.2 769.8,1026.4 770,1028.6 770.1,1030.8 770.3,1033 770.4,1035.2 770.6,1037.4 770.8,1039.7 770.9,1041.9 771.1,1044.1 771.2,1046.3 771.4,1048.5 771.5,1050.7 771.7,1052.9 771.8,1055.1 772,1057.3 772.1,1059.5 772.3,1061.7 772.4,1063.9 772.6,1066.1 772.7,1068.3 772.9,1070.5 773,1072.7 773.2,1074.9 773.3,1077.1 773.5,1079.3 773.6,1081.5 773.8,1083.7 773.9,1085.9 774.1,1088.1 774.2,1090.3 774.4,1092.5 774.5,1094.7 774.7,1096.9 774.8,1099.1 775,1101.3 775.1,1103.5 775.3,1105.7 775.4,1107.9 775.6,1110.1 775.7,1112.3 775.9,1114.5 776,1116.7 776.1,1118.9 776.3,1121.2 776.4,1123.4 776.6,1125.6 776.7,1127.8 776.9,1130 777,1132.2 777.2,1134.4 777.3,1136.6 777.5,1138.8 777.6,1141 777.8,1143.2 777.9,1145.4 778.1,1147.6 778.2,1149.8 778.4,1152 778.5,1154.2 778.7,1156.4 778.8,1158.6 778.9,1160.8 779.1,1163 779.2,1165.2 779.3,1167.4 779.4,1169.6 779.6,1171.8 779.7,1174 779.8,1176.2 779.9,1178.4 780.1,1180.6 780.2,1182.8 780.3,1185 780.4,1187.2 780.6,1189.4 780.7,1191.6 780.8,1193.8 780.9,1196 781.1,1198.2 781.2,1200.4 781.3,1202.6 781.5,1204.8 781.6,1207.1 781.7,1209.3 781.8,1211.5 782,1213.7 782.1,1215.9 782.2,1218.1 782.3,1220.3 782.5,1222.5 782.6,1224.7 782.7,1226.9 782.8,1229.1 783,1231.3 783.1,1233.5 783.2,1235.7 783.3,1237.9 783.5,1240.1 783.6,1242.3 783.7,1244.5 783.8,1246.7 784,1248.9 784.1,1251.1 784.8,1253.3 785.5,1255.4 786.3,1257.6 787,1259.8 787.7,1261.9 788.4,1264.1 789.1,1266.2 789.8,1268.4 790.6,1270.6 791.3,1272.7 792,1274.9 794.3,1275.5 796.5,1276 798.8,1276.6 801.1,1277.8 803.4,1279.2 805.6,1278.1 807.9,1278.4 810.1,1279.2 812.3,1280.5 814.5,1278.5 816.7,1278.7 818.9,1278.4 821.1,1280 823.3,1279.6 825.5,1279 827.7,1279.5 829.9,1278.5 832.1,1279.5 834.3,1281.7 836.5,1280.6 838.8,1279.8 841,1282 843.3,1280.3 845.5,1280.1 847.8,1279.6 850,1280.1 852.2,1280.3 854.4,1280.4 856.6,1282.6 858.9,1280.7 861.1,1280.7 863.3,1281.9 865.5,1282.9 867.7,1281 869.9,1282.5 872.2,1281.3 874.4,1282 876.6,1282.2 878.8,1283.3 881,1282.8 883.2,1282.1 885.5,1283.2 887.7,1281.7 889.9,1281.8 892.1,1283.7 894.3,1282.5 896.5,1283.3 898.8,1281.8 901,1283.8 903.2,1282.9 905.4,1281.8 907.6,1284 909.8,1282.5 912,1282.1 914.2,1281.8 916.5,1281.3 918.7,1281.6 920.9,1283.2 923.1,1281.5 925.3,1281.8 927.5,1282.4 929.7,1282.7 931.9,1282.2 934.2,1283.5 936.4,1281.8 938.6,1282.2 940.8,1282.4 943,1281.4 945.2,1281.7 947.4,1281.5 949.6,1283.3 951.9,1281.5 954.1,1283.1 956.3,1281.7 958.5,1283.1 960.7,1283.1 962.9,1282.3 965.1,1284.3 967.3,1283.6 969.6,1283.5 971.8,1282 974,1283.3 976.2,1283 978.4,1283.8 980.6,1285.5 982.9,1285.4 985.1,1283 987.3,1285.2 989.5,1286.2 991.7,1285.1 993.9,1283.8 996.2,1286.5 998.4,1285.2 1000.6,1287.2 1002.8,1287 1005,1287 1007.2,1287.5 1009.5,1284.9 1011.7,1287.4 1013.9,1286 1016.1,1285.6 1018.3,1286.5 1020.5,1287.2 1022.7,1285.4 1025,1286.8 1027.2,1288 1029.4,1287.1 1031.6,1287.3 1033.8,1286.6 1036,1288.8 1038.3,1286.5 1040.5,1288 1042.7,1287.9 1044.9,1285.9 1047.1,1289.1 1049.3,1286.7 1051.6,1289.2 1053.8,1289.1 1056,1289 1058.2,1288.9 1060.4,1287.5 1062.6,1287.7 1064.9,1287.5 1067.1,1289.4 1069.3,1286.5 1071.5,1286.9 1073.7,1289.8 1075.9,1289.6 1078.1,1289.5 1080.3,1290.6 1082.5,1289.4 1084.7,1290.6 1086.8,1289.6 1089,1291.3 1091.2,1288.9 1093.4,1290.3 1095.6,1291 1097.8,1291.9 1100,1291 1102.2,1291.9 1104.4,1293 1106.6,1291.3 1108.8,1290.7 1111,1290.3 1113.2,1293.1 1115.4,1292 1117.6,1291.9 1119.8,1292.4 1122,1291.3 1124.2,1291.7 1126.4,1291.9 1128.6,1292.1 1130.8,1294.1 1133,1292.3 1135.2,1291.9 1137.4,1294.5 1139.6,1293.7 1141.8,1292.1 1144,1294.3 1146.2,1294.5 1148.4,1294.5 1150.6,1295 1152.8,1294 1155,1293.5 1157.2,1295.3 1159.4,1295 1161.6,1295.4 1163.8,1293.9 1166,1294.6 1168.2,1295.7 1170.4,1294.9 1172.6,1295.7 1174.8,1295.4 1177,1296.5 1179.2,1295.3 1181.4,1295.9 1183.7,1297.1 1185.9,1295.6 1188.2,1295.3 1190.4,1296.9 1192.7,1295.5 1194.9,1297.9 1197.2,1296.2 1199.4,1298.4 1201.7,1297.4 1204,1296.3 1206.2,1297.6 1208.5,1298.3 1210.7,1297.8 1213,1298.4 1215.2,1297.7 1217.5,1299.8 1219.7,1297.4 1222,1299.6 1224.3,1297 1226.5,1298.4 1228.8,1296.9 1231.1,1297 1233.3,1298.4 1235.6,1299.3 1237.4,1296.5 1239.2,1295.9 1241,1295.2 1243,1296.8 1245.1,1297.2 1247.2,1298.3 1249.2,1301.1 1251.5,1300.3 1253.7,1299.9 1256,1301.5 1258.2,1302.3 1260.5,1300.6 1262.8,1299.4 1265,1300.5 1267.3,1302.6 1269.5,1300.4 1271.8,1300.7 1274,1302.8 1276.3,1300.8 1278.5,1303.5 1280.7,1301.8 1282.9,1302.7 1285.1,1303.7 1287.3,1302.5 1289.5,1304.9 1291.7,1304.2 1293.9,1305.6 1296.1,1305.9 1298.3,1304.1 1300.5,1306.8 1302.7,1307.2 1304.9,1305.6 1307.1,1307.1 1309.3,1306.2 1311.5,1307.6 1313.7,1308.5 1315.9,1307.5 1318.1,1308.2 1320.4,1307.1 1322.6,1309.6 1324.8,1309 1327,1308.8"/>
<polyline fill="none" stroke="#77AC30" stroke-width="3.2" stroke-dasharray="10.7 3.4 4.5 4" stroke-linejoin="round" points="580.3,1387 580.4,1384.8 580.4,1382.6 580.5,1380.4 580.5,1378.2 580.6,1376 580.7,1373.7 580.7,1371.5 580.8,1369.3 580.8,1367.1 580.9,1364.9 581,1362.7 581,1360.5 581.1,1358.3 581.2,1356.1 581.2,1353.9 581.3,1351.7 581.3,1349.5 581.4,1347.2 581.5,1345 581.5,1342.8 581.6,1340.6 581.6,1338.4 581.7,1336.2 582,1334.1 582.2,1332 582.5,1329.9 582.7,1327.7 583,1325.6 583.2,1323.5 583.5,1321.4 583.7,1319.3 584,1317.2 584.2,1315 584.5,1312.9 584.7,1310.8 585,1308.7 585.3,1306.6 585.6,1304.5 586,1302.4 586.3,1300.3 586.6,1298.2 586.9,1296 587.2,1293.9 587.6,1291.8 587.9,1289.7 588.2,1287.6 589.8,1286 591.4,1284.4 593,1282.8 595.2,1282.4 597.3,1282.1 599.5,1281.7 601.7,1283.1 603.8,1279.3 606,1281.5 608.2,1279.1 610.3,1281.7 612.5,1277.9 614.7,1281.1 616.9,1280.4 619,1281.2 621.2,1281.8 623.4,1279.1 625.6,1279.6 627.8,1281 630,1279.5 632.1,1279.6 634.3,1279.5 636.5,1281.9 638.8,1281.7 641,1281.2 643.3,1278.9 645.5,1281.2 647.8,1279.5 650.1,1278.3 652.3,1278.9 654.6,1278.5 656.8,1277 659.1,1278.6 661.4,1277.6 663.6,1278.1 665.9,1279.2 668.1,1278 670.4,1276.9 672.3,1277.4 674.2,1276.7 676,1273.8 677.9,1274.3 679.8,1269.8 681.7,1269.1 684,1269.4 686.2,1272.4 688.5,1271.7 690.7,1272.1 693,1270.7 694.9,1270.5 696.8,1271 698.6,1267.3 700.5,1266.4 702.4,1265.2 704.3,1265.8 706.6,1267 708.8,1265.9 711.1,1265.2 713.3,1265.4 715.6,1264.1 717.9,1266.8 720.1,1264.5 722.4,1264 724.6,1264.1 726.9,1265.9 729.2,1263.7 731.4,1265.5 733.7,1263.1 735.9,1263.2 738.2,1261.5 740.5,1264.2 742.7,1263.5 745,1262 747.2,1260.3 749.5,1261.4 751.3,1259.8 753.1,1260.3 754.9,1259.5 756.7,1257.7 758.4,1254.9 760.2,1254.5 762,1253.4 763.8,1252.2 765.6,1251.1 766.7,1253 767.7,1254.8 768.8,1256.7 769.8,1258.5 770.9,1260.4 772.7,1258.9 774.4,1257.3 776.2,1255.8 778,1254.2 779.7,1252.6 781.5,1251.1 782.3,1253.2 783.1,1255.3 783.9,1257.5 784.7,1259.6 785.5,1261.7 786.2,1263.8 787,1265.9 787.8,1268.1 788.6,1270.2 789.4,1272.3 791.5,1273.2 793.5,1274.1 795.6,1274.9 797.6,1275.8 799.7,1276.7 801.7,1275.7 803.8,1280 805.8,1281.1 807.9,1278.8 810.1,1280.3 812.3,1280.4 814.5,1282.5 816.8,1278.9 819,1279.1 821.2,1282.3 823.4,1281.4 825.6,1281.1 827.8,1282.4 830.1,1281.8 832.3,1282.4 834.5,1280.7 836.7,1280.2 838.9,1280 841.1,1281.4 843.4,1282.8 845.6,1281.9 847.8,1281.9 850,1283.1 852.2,1283.4 854.4,1282.9 856.6,1281.8 858.8,1283.8 860.9,1283.7 863.1,1284 865.3,1284 867.5,1280.5 869.7,1283.1 871.9,1281.8 874.1,1281.9 876.3,1282.4 878.5,1280.9 880.6,1281.3 882.8,1284.2 885,1281.6 887.2,1283.9 889.4,1282.9 891.6,1281.4 893.8,1281.4 896,1282.5 898.2,1282.9 900.3,1281.4 902.5,1280.3 904.7,1280.7 906.9,1283.5 909.1,1282.9 911.3,1280.4 913.5,1283.3 915.7,1282.2 917.9,1281.2 920,1283.5 922.2,1280.4 924.4,1280.2 926.6,1281.2 928.8,1282.7 931,1282 933.2,1281.7 935.4,1283.3 937.5,1281.3 939.7,1282.8 941.9,1279.7 944.1,1282.8 946.3,1280.2 948.5,1282.2 950.7,1282.9 952.9,1282.2 955.1,1281.8 957.2,1281.7 959.4,1282.5 961.6,1280.9 963.8,1280.4 966,1281.6 968.2,1281.5 970.4,1279.8 972.6,1281.5 974.8,1281.2 976.9,1279.9 979.1,1282.1 981.3,1282.4 983.5,1280.6 985.7,1282.7 987.9,1283.2 990.1,1282 992.3,1281.1 994.6,1280.7 996.8,1280.2 999,1280.9 1001.2,1283.9 1003.4,1280.2 1005.6,1283.7 1007.9,1282.9 1010.1,1283.4 1012.3,1280.7 1014.5,1283 1016.7,1281.4 1018.9,1283.3 1021.1,1283.9 1023.4,1283.7 1025.6,1283.1 1027.8,1284.5 1030,1282 1032.2,1281.8 1034.4,1284.8 1036.6,1281.6 1038.9,1283.2 1041.1,1283.3 1043.3,1285.2 1045.5,1283.3 1047.7,1284.1 1049.9,1284 1052.2,1284 1054.4,1284 1056.6,1284.1 1058.8,1284.7 1061,1284.2 1063.2,1284.2 1065.4,1286.3 1067.7,1286.6 1069.9,1283.8 1072.1,1286.7 1074.3,1283.1 1076.4,1284.9 1078.6,1287.7 1080.7,1285.4 1082.9,1288 1085,1289.9 1087.2,1288.9 1089.3,1288.9 1091.4,1287.7 1093.6,1290 1095.7,1290.6 1097.9,1292.5 1100,1291.5 1102.3,1293.2 1104.5,1291.6 1106.8,1292.6 1109,1293.1 1111.3,1290.8 1113.5,1294 1115.8,1292.1 1118.1,1292.2 1120.3,1294.2 1122.6,1292.7 1124.8,1292.5 1127.1,1291.4 1129.4,1291.3 1131.6,1293.4 1133.9,1292.3 1136.1,1292.8 1138.4,1292.8 1140.7,1292.7 1142.9,1291.2 1145.2,1293.3 1147.4,1291.5 1149.7,1290.3 1152,1293 1154.2,1293.1 1156.5,1289.9 1158.7,1292.8 1161,1292 1162.9,1291.2 1164.8,1293.4 1166.7,1295.7 1168.6,1293.6 1170.5,1296.5 1172.7,1294.9 1174.9,1294.5 1177.2,1297.7 1179.4,1297.9 1181.6,1296.5 1183.8,1297.1 1186,1295.5 1188.2,1295.6 1190.5,1296.4 1192.7,1297.2 1194.9,1296.7 1197.1,1296 1199.4,1296.9 1201.6,1296.2 1203.8,1298.1 1206,1298.6 1208.3,1298.5 1210.5,1296.9 1212.7,1297.4 1215,1300 1217.2,1297.8 1219.4,1299.2 1221.6,1297.2 1223.9,1297.6 1226.1,1298.2 1227.5,1298.2 1228.8,1294.6 1230.2,1294.5 1232.1,1290.8 1234,1291.9 1235.9,1290.6 1237.8,1287.5 1239.7,1286.1 1241,1288.1 1242.4,1291.1 1243.7,1291.9 1244.6,1294.4 1245.5,1299 1246.4,1301.7 1248.7,1298.9 1251.1,1300.6 1253.4,1301.5 1255.7,1302.9 1258,1301.7 1260.4,1301.8 1262.7,1303.1 1265,1302.9 1267.2,1302.4 1269.5,1301.8 1271.8,1302.4 1274,1299.1 1276.3,1301.8 1276.6,1297.3 1276.8,1295.5 1277.1,1293.4 1277.3,1291.6 1277.6,1289.6 1278.3,1291.5 1279,1292.3 1279.7,1294.4 1280.3,1297.5 1281,1300.5 1281.7,1300.2 1283.5,1300.1 1285.3,1304.8 1287.1,1306.2 1289.4,1306.1 1291.8,1305.2 1294.1,1304.4 1296.4,1303 1298.7,1306.4 1301.1,1304.4 1303.4,1303.2 1305.2,1303.9 1307,1300.2 1308.8,1300.3 1310.8,1302.1 1312.9,1303.9 1315,1303.1 1317,1303.5 1318.3,1306 1319.7,1309.7 1321.1,1308.7 1322.4,1310.8 1323.9,1310.5 1325.5,1311.7 1327,1308.8"/>
</g>
<rect x="121.5" y="30.4" width="185" height="150.8" fill="#fff" stroke="#262626" stroke-width="1.3"/>
<line x1="128" y1="46.5" x2="189.6" y2="46.5" stroke="#D95319" stroke-width="4.5"/>
<text transform="translate(196 56) scale(1 1.06)" font-family="'Liberation Sans', Arial, Helvetica, sans-serif" font-size="19.2" fill="#000">PF</text>
<line x1="128" y1="76.2" x2="189.6" y2="76.2" stroke="#EDB120" stroke-width="4.5" stroke-dasharray="13 12.8"/>
<text transform="translate(196 85.7) scale(1 1.06)" font-family="'Liberation Sans', Arial, Helvetica, sans-serif" font-size="19.2" fill="#000">GPSO-PF</text>
<line x1="128" y1="105.8" x2="189.6" y2="105.8" stroke="#7E2F8E" stroke-width="4.5" stroke-dasharray="3.3 3.2"/>
<text transform="translate(196 115.3) scale(1 1.06)" font-family="'Liberation Sans', Arial, Helvetica, sans-serif" font-size="19.2" fill="#000">AVPF</text>
<line x1="128" y1="135.4" x2="189.6" y2="135.4" stroke="#0072BD" stroke-width="4.5" stroke-dasharray="13 4 6 3.5"/>
<text transform="translate(196 144.9) scale(1 1.06)" font-family="'Liberation Sans', Arial, Helvetica, sans-serif" font-size="19.2" fill="#000">CD-FPF-CG</text>
<line x1="128" y1="165.1" x2="189.6" y2="165.1" stroke="#77AC30" stroke-width="4.5" stroke-dasharray="13 4 6 3.5"/>
<text transform="translate(196 174.6) scale(1 1.06)" font-family="'Liberation Sans', Arial, Helvetica, sans-serif" font-size="19.2" fill="#000">CD-FPF-GL</text>
<rect x="1041.2" y="30.6" width="192.3" height="150.8" fill="#fff" stroke="#262626" stroke-width="1.3"/>
<line x1="1048" y1="46.5" x2="1112.4" y2="46.5" stroke="#D95319" stroke-width="4.5"/>
<text transform="translate(1118.8 56) scale(1 1.06)" font-family="'Liberation Sans', Arial, Helvetica, sans-serif" font-size="19.2" fill="#000">PF</text>
<line x1="1048" y1="76.2" x2="1112.4" y2="76.2" stroke="#EDB120" stroke-width="4.5" stroke-dasharray="13 12.8"/>
<text transform="translate(1118.8 85.7) scale(1 1.06)" font-family="'Liberation Sans', Arial, Helvetica, sans-serif" font-size="19.2" fill="#000">GPSO-PF</text>
<line x1="1048" y1="105.8" x2="1112.4" y2="105.8" stroke="#7E2F8E" stroke-width="4.5" stroke-dasharray="3.3 3.2"/>
<text transform="translate(1118.8 115.3) scale(1 1.06)" font-family="'Liberation Sans', Arial, Helvetica, sans-serif" font-size="19.2" fill="#000">AVPF</text>
<line x1="1048" y1="135.4" x2="1112.4" y2="135.4" stroke="#0072BD" stroke-width="4.5" stroke-dasharray="13 4 6 3.5"/>
<text transform="translate(1118.8 144.9) scale(1 1.06)" font-family="'Liberation Sans', Arial, Helvetica, sans-serif" font-size="19.2" fill="#000">CD-FPF-CG</text>
<line x1="1048" y1="165.1" x2="1112.4" y2="165.1" stroke="#77AC30" stroke-width="4.5" stroke-dasharray="13 4 6 3.5"/>
<text transform="translate(1118.8 174.6) scale(1 1.06)" font-family="'Liberation Sans', Arial, Helvetica, sans-serif" font-size="19.2" fill="#000">CD-FPF-GL</text>
<rect x="589.8" y="789.8" width="164.8" height="128" fill="#fff" stroke="#262626" stroke-width="1.3"/>
<line x1="595.2" y1="803.6" x2="651.7" y2="803.6" stroke="#D95319" stroke-width="4.2"/>
<text transform="translate(656.5 812.1) scale(1 1.06)" font-family="'Liberation Sans', Arial, Helvetica, sans-serif" font-size="17.0" fill="#000">PF</text>
<line x1="595.2" y1="828.8" x2="651.7" y2="828.8" stroke="#EDB120" stroke-width="4.2" stroke-dasharray="10.5 11"/>
<text transform="translate(656.5 837.2) scale(1 1.06)" font-family="'Liberation Sans', Arial, Helvetica, sans-serif" font-size="17.0" fill="#000">GPSO-PF</text>
<line x1="595.2" y1="853.9" x2="651.7" y2="853.9" stroke="#7E2F8E" stroke-width="4.2" stroke-dasharray="3 3.2"/>
<text transform="translate(656.5 862.4) scale(1 1.06)" font-family="'Liberation Sans', Arial, Helvetica, sans-serif" font-size="17.0" fill="#000">AVPF</text>
<line x1="595.2" y1="879" x2="651.7" y2="879" stroke="#0072BD" stroke-width="4.2" stroke-dasharray="10.7 3.4 4.5 4"/>
<text transform="translate(656.5 887.5) scale(1 1.06)" font-family="'Liberation Sans', Arial, Helvetica, sans-serif" font-size="17.0" fill="#000">CD-FPF-CG</text>
<line x1="595.2" y1="904.2" x2="651.7" y2="904.2" stroke="#77AC30" stroke-width="4.2" stroke-dasharray="10.7 3.4 4.5 4"/>
<text transform="translate(656.5 912.7) scale(1 1.06)" font-family="'Liberation Sans', Arial, Helvetica, sans-serif" font-size="17.0" fill="#000">CD-FPF-GL</text>
<g font-family="'Liberation Serif', 'Times New Roman', serif" font-size="42" fill="#000" text-anchor="middle">
<text x="451.2" y="751.5">(a)</text>
<text x="1403" y="751.5">(b)</text>
<text x="952.8" y="1498.6">(c)</text>
</g>
</svg>
</body></html>
